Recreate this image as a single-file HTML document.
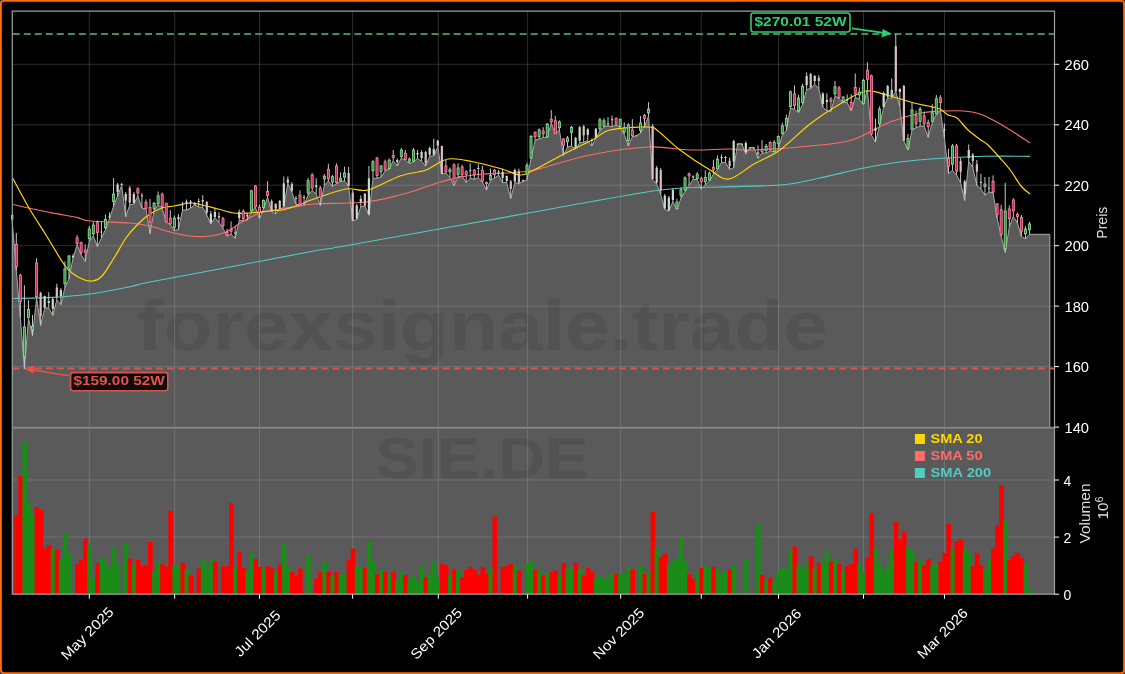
<!DOCTYPE html>
<html><head><meta charset="utf-8"><style>html,body{margin:0;padding:0;background:#000;width:1125px;height:674px;overflow:hidden}svg{display:block;will-change:transform}</style></head>
<body><svg width="1125" height="674" viewBox="0 0 1125 674">
<rect x="0" y="0" width="1125" height="674" fill="#333"/>
<rect x="0.9" y="0.9" width="1123.2" height="672.2" rx="3" ry="3" fill="#000" stroke="#ff6a13" stroke-width="1.9"/>
<rect x="12.3" y="427.8" width="1042.2" height="166.40000000000003" fill="#5a5a5a"/>
<path d="M12.2,427.8 L12.2,221.0 L16.3,270.5 L20.3,317.4 L24.4,368.9 L28.5,318.5 L32.5,335.6 L36.6,298.0 L40.6,325.4 L44.7,308.3 L48.7,307.8 L52.8,315.3 L56.8,299.8 L60.9,304.6 L64.9,287.6 L69.0,279.0 L73.0,258.0 L77.1,244.8 L81.1,254.4 L85.2,261.4 L89.2,241.6 L93.3,235.8 L97.4,246.5 L101.4,238.0 L105.5,229.4 L109.5,218.7 L113.6,206.0 L117.6,196.0 L121.7,185.5 L125.7,216.6 L129.8,204.8 L133.8,204.0 L137.9,196.0 L141.9,208.0 L146.0,209.1 L150.0,233.7 L154.1,210.0 L158.1,204.8 L162.2,208.0 L166.3,222.0 L170.3,224.6 L174.4,230.5 L178.4,229.4 L182.5,210.0 L186.5,210.0 L190.6,208.0 L194.6,205.0 L198.7,207.0 L202.7,207.4 L206.8,214.9 L210.8,224.0 L214.9,217.5 L218.9,222.4 L223.0,228.2 L227.0,236.2 L231.1,234.0 L235.2,238.4 L239.2,220.2 L243.3,220.7 L247.3,220.2 L251.4,211.7 L255.4,207.4 L259.5,218.6 L263.5,209.0 L267.6,197.2 L271.6,211.5 L275.7,213.8 L279.7,209.5 L283.8,206.9 L287.8,183.4 L291.9,192.0 L295.9,204.2 L300.0,205.3 L304.1,205.0 L308.1,195.1 L312.2,190.6 L316.2,193.8 L320.3,205.6 L324.3,185.3 L328.4,181.0 L332.4,186.3 L336.5,183.7 L340.5,181.5 L344.6,181.0 L348.6,186.3 L352.7,221.0 L356.7,219.4 L360.8,206.6 L364.9,206.0 L368.9,215.2 L373.0,178.3 L377.0,178.3 L381.1,177.2 L385.1,170.8 L389.2,169.2 L393.2,160.7 L397.3,166.0 L401.3,158.0 L405.4,160.1 L409.4,163.4 L413.5,161.8 L417.5,158.5 L421.6,161.1 L425.6,166.0 L429.7,156.3 L433.8,155.8 L437.8,146.7 L441.9,174.0 L445.9,172.9 L450.0,177.7 L454.0,185.7 L458.1,177.1 L462.1,176.0 L466.2,182.5 L470.2,178.2 L474.3,179.3 L478.3,177.7 L482.4,182.0 L486.4,190.0 L490.5,180.4 L494.5,178.2 L498.6,175.0 L502.7,182.5 L506.7,182.5 L510.8,198.5 L514.8,182.5 L518.9,183.6 L522.9,181.5 L527.0,179.8 L531.0,159.0 L535.1,140.3 L539.1,139.0 L543.2,137.4 L547.2,137.4 L551.3,123.0 L555.3,134.0 L559.4,130.0 L563.4,155.6 L567.5,147.0 L571.6,146.0 L575.6,149.1 L579.7,142.7 L583.7,142.2 L587.8,140.6 L591.8,146.0 L595.9,138.0 L599.9,131.0 L604.0,126.7 L608.0,126.0 L612.1,126.7 L616.1,125.1 L620.2,127.2 L624.2,134.2 L628.3,146.0 L632.3,136.9 L636.4,135.8 L640.5,133.1 L644.5,126.2 L648.6,116.0 L652.6,180.0 L656.7,183.8 L660.7,194.5 L664.8,209.4 L668.8,211.0 L672.9,201.4 L676.9,209.4 L681.0,198.2 L685.0,191.3 L689.1,184.9 L693.1,179.5 L697.2,179.5 L701.2,189.1 L705.3,184.9 L709.4,181.1 L713.4,174.2 L717.5,169.4 L721.5,162.4 L725.6,162.4 L729.6,169.4 L733.7,167.8 L737.7,143.7 L741.8,143.7 L745.8,154.1 L749.9,147.5 L753.9,147.5 L758.0,158.3 L762.0,153.0 L766.1,153.0 L770.2,150.9 L774.2,152.0 L778.3,148.8 L782.3,134.9 L786.4,130.6 L790.4,108.2 L794.5,109.3 L798.5,112.5 L802.6,104.5 L806.6,89.5 L810.7,88.5 L814.7,84.2 L818.8,88.5 L822.8,107.1 L826.9,110.9 L830.9,111.4 L835.0,95.9 L839.1,98.6 L843.1,102.4 L847.2,102.6 L851.2,110.9 L855.3,97.5 L859.3,99.1 L863.4,104.5 L867.4,89.5 L871.5,135.2 L875.5,142.0 L879.6,125.6 L883.6,107.4 L887.7,97.8 L891.7,98.3 L895.8,91.4 L899.8,106.3 L903.9,141.0 L908.0,150.0 L912.0,129.8 L916.1,127.7 L920.1,126.1 L924.2,126.1 L928.2,137.3 L932.3,122.4 L936.3,114.3 L940.4,110.6 L944.4,138.0 L948.5,173.3 L952.5,170.6 L956.6,174.9 L960.6,182.4 L964.7,200.5 L968.7,161.5 L972.8,167.4 L976.9,185.6 L980.9,188.8 L985.0,195.2 L989.0,192.0 L993.1,193.0 L997.1,218.0 L1001.2,236.0 L1005.2,252.5 L1009.3,227.0 L1013.3,216.5 L1017.4,222.7 L1021.4,236.5 L1025.5,238.7 L1029.5,234.3 L1049.8,234.3 L1049.8,427.8 Z" fill="#5a5a5a" stroke="none"/>
<text x="137" y="350" font-family="Liberation Sans" font-weight="bold" font-size="71" fill="#525252" textLength="691" lengthAdjust="spacingAndGlyphs">forexsignale.trade</text>
<text x="482" y="478" text-anchor="middle" font-family="Liberation Sans" font-weight="bold" font-size="58" fill="#525252" textLength="213" lengthAdjust="spacingAndGlyphs">SIE.DE</text>
<line x1="89.3" y1="11.2" x2="89.3" y2="594.2" stroke="#bbb" stroke-opacity="0.3" stroke-width="0.8"/>
<line x1="174.7" y1="11.2" x2="174.7" y2="594.2" stroke="#bbb" stroke-opacity="0.3" stroke-width="0.8"/>
<line x1="259.5" y1="11.2" x2="259.5" y2="594.2" stroke="#bbb" stroke-opacity="0.3" stroke-width="0.8"/>
<line x1="352.6" y1="11.2" x2="352.6" y2="594.2" stroke="#bbb" stroke-opacity="0.3" stroke-width="0.8"/>
<line x1="438.3" y1="11.2" x2="438.3" y2="594.2" stroke="#bbb" stroke-opacity="0.3" stroke-width="0.8"/>
<line x1="527.6" y1="11.2" x2="527.6" y2="594.2" stroke="#bbb" stroke-opacity="0.3" stroke-width="0.8"/>
<line x1="620.7" y1="11.2" x2="620.7" y2="594.2" stroke="#bbb" stroke-opacity="0.3" stroke-width="0.8"/>
<line x1="701.3" y1="11.2" x2="701.3" y2="594.2" stroke="#bbb" stroke-opacity="0.3" stroke-width="0.8"/>
<line x1="778.5" y1="11.2" x2="778.5" y2="594.2" stroke="#bbb" stroke-opacity="0.3" stroke-width="0.8"/>
<line x1="863.5" y1="11.2" x2="863.5" y2="594.2" stroke="#bbb" stroke-opacity="0.3" stroke-width="0.8"/>
<line x1="944.5" y1="11.2" x2="944.5" y2="594.2" stroke="#bbb" stroke-opacity="0.3" stroke-width="0.8"/>
<line x1="12.3" y1="64.3" x2="1054.5" y2="64.3" stroke="#bbb" stroke-opacity="0.3" stroke-width="0.8"/>
<line x1="12.3" y1="124.8" x2="1054.5" y2="124.8" stroke="#bbb" stroke-opacity="0.3" stroke-width="0.8"/>
<line x1="12.3" y1="185.2" x2="1054.5" y2="185.2" stroke="#bbb" stroke-opacity="0.3" stroke-width="0.8"/>
<line x1="12.3" y1="245.7" x2="1054.5" y2="245.7" stroke="#bbb" stroke-opacity="0.3" stroke-width="0.8"/>
<line x1="12.3" y1="306.1" x2="1054.5" y2="306.1" stroke="#bbb" stroke-opacity="0.3" stroke-width="0.8"/>
<line x1="12.3" y1="366.6" x2="1054.5" y2="366.6" stroke="#bbb" stroke-opacity="0.3" stroke-width="0.8"/>
<line x1="12.3" y1="537.1" x2="1054.5" y2="537.1" stroke="#bbb" stroke-opacity="0.3" stroke-width="0.8"/>
<line x1="12.3" y1="480.0" x2="1054.5" y2="480.0" stroke="#bbb" stroke-opacity="0.3" stroke-width="0.8"/>
<rect x="14.27" y="515.0" width="4.65" height="79.2" fill="#ff0000"/>
<rect x="18.32" y="476.0" width="4.65" height="118.2" fill="#ff0000"/>
<rect x="22.37" y="442.4" width="4.65" height="151.8" fill="#1a8c1a"/>
<rect x="26.43" y="503.7" width="4.65" height="90.5" fill="#1a8c1a"/>
<rect x="30.48" y="513.0" width="4.65" height="81.2" fill="#1a8c1a"/>
<rect x="34.53" y="507.0" width="4.65" height="87.2" fill="#ff0000"/>
<rect x="38.58" y="510.0" width="4.65" height="84.2" fill="#ff0000"/>
<rect x="42.64" y="548.6" width="4.65" height="45.6" fill="#ff0000"/>
<rect x="46.69" y="545.0" width="4.65" height="49.2" fill="#ff0000"/>
<rect x="50.74" y="550.0" width="4.65" height="44.2" fill="#1a8c1a"/>
<rect x="54.80" y="550.0" width="4.65" height="44.2" fill="#ff0000"/>
<rect x="58.85" y="559.0" width="4.65" height="35.2" fill="#1a8c1a"/>
<rect x="62.90" y="534.0" width="4.65" height="60.2" fill="#1a8c1a"/>
<rect x="66.96" y="554.0" width="4.65" height="40.2" fill="#1a8c1a"/>
<rect x="75.06" y="564.0" width="4.65" height="30.2" fill="#ff0000"/>
<rect x="79.11" y="560.0" width="4.65" height="34.2" fill="#ff0000"/>
<rect x="83.17" y="538.6" width="4.65" height="55.6" fill="#ff0000"/>
<rect x="87.22" y="545.0" width="4.65" height="49.2" fill="#1a8c1a"/>
<rect x="91.27" y="577.0" width="4.65" height="17.2" fill="#1a8c1a"/>
<rect x="95.33" y="563.0" width="4.65" height="31.2" fill="#ff0000"/>
<rect x="99.38" y="557.0" width="4.65" height="37.2" fill="#1a8c1a"/>
<rect x="103.43" y="561.0" width="4.65" height="33.2" fill="#1a8c1a"/>
<rect x="107.49" y="567.0" width="4.65" height="27.2" fill="#1a8c1a"/>
<rect x="111.54" y="547.0" width="4.65" height="47.2" fill="#1a8c1a"/>
<rect x="115.59" y="564.0" width="4.65" height="30.2" fill="#1a8c1a"/>
<rect x="123.70" y="543.6" width="4.65" height="50.6" fill="#1a8c1a"/>
<rect x="127.75" y="558.5" width="4.65" height="35.7" fill="#ff0000"/>
<rect x="131.80" y="565.0" width="4.65" height="29.2" fill="#1a8c1a"/>
<rect x="135.86" y="560.0" width="4.65" height="34.2" fill="#ff0000"/>
<rect x="139.91" y="565.7" width="4.65" height="28.5" fill="#ff0000"/>
<rect x="143.96" y="565.0" width="4.65" height="29.2" fill="#ff0000"/>
<rect x="148.02" y="542.0" width="4.65" height="52.2" fill="#ff0000"/>
<rect x="152.07" y="571.0" width="4.65" height="23.2" fill="#1a8c1a"/>
<rect x="156.12" y="562.0" width="4.65" height="32.2" fill="#1a8c1a"/>
<rect x="160.17" y="564.0" width="4.65" height="30.2" fill="#ff0000"/>
<rect x="164.23" y="567.0" width="4.65" height="27.2" fill="#ff0000"/>
<rect x="168.28" y="510.8" width="4.65" height="83.4" fill="#ff0000"/>
<rect x="172.33" y="566.0" width="4.65" height="28.2" fill="#1a8c1a"/>
<rect x="176.39" y="566.0" width="4.65" height="28.2" fill="#1a8c1a"/>
<rect x="180.44" y="562.8" width="4.65" height="31.4" fill="#ff0000"/>
<rect x="184.49" y="570.6" width="4.65" height="23.6" fill="#1a8c1a"/>
<rect x="188.55" y="575.6" width="4.65" height="18.6" fill="#ff0000"/>
<rect x="196.65" y="568.5" width="4.65" height="25.7" fill="#ff0000"/>
<rect x="200.70" y="559.0" width="4.65" height="35.2" fill="#1a8c1a"/>
<rect x="204.76" y="567.0" width="4.65" height="27.2" fill="#1a8c1a"/>
<rect x="208.81" y="559.0" width="4.65" height="35.2" fill="#1a8c1a"/>
<rect x="212.86" y="562.0" width="4.65" height="32.2" fill="#ff0000"/>
<rect x="220.97" y="566.0" width="4.65" height="28.2" fill="#ff0000"/>
<rect x="225.02" y="566.0" width="4.65" height="28.2" fill="#ff0000"/>
<rect x="229.08" y="503.0" width="4.65" height="91.2" fill="#ff0000"/>
<rect x="233.13" y="567.8" width="4.65" height="26.4" fill="#1a8c1a"/>
<rect x="237.18" y="552.0" width="4.65" height="42.2" fill="#ff0000"/>
<rect x="241.23" y="567.8" width="4.65" height="26.4" fill="#ff0000"/>
<rect x="245.29" y="571.4" width="4.65" height="22.8" fill="#1a8c1a"/>
<rect x="249.34" y="552.8" width="4.65" height="41.4" fill="#1a8c1a"/>
<rect x="253.39" y="559.0" width="4.65" height="35.2" fill="#ff0000"/>
<rect x="257.45" y="567.0" width="4.65" height="27.2" fill="#ff0000"/>
<rect x="261.50" y="568.5" width="4.65" height="25.7" fill="#1a8c1a"/>
<rect x="265.55" y="566.0" width="4.65" height="28.2" fill="#ff0000"/>
<rect x="269.61" y="568.5" width="4.65" height="25.7" fill="#ff0000"/>
<rect x="273.66" y="572.0" width="4.65" height="22.2" fill="#1a8c1a"/>
<rect x="277.71" y="564.7" width="4.65" height="29.5" fill="#ff0000"/>
<rect x="281.76" y="544.3" width="4.65" height="49.9" fill="#1a8c1a"/>
<rect x="285.82" y="567.8" width="4.65" height="26.4" fill="#1a8c1a"/>
<rect x="289.87" y="572.0" width="4.65" height="22.2" fill="#ff0000"/>
<rect x="293.92" y="575.6" width="4.65" height="18.6" fill="#ff0000"/>
<rect x="297.98" y="568.5" width="4.65" height="25.7" fill="#ff0000"/>
<rect x="306.08" y="555.0" width="4.65" height="39.2" fill="#1a8c1a"/>
<rect x="314.19" y="578.5" width="4.65" height="15.7" fill="#ff0000"/>
<rect x="318.24" y="572.0" width="4.65" height="22.2" fill="#ff0000"/>
<rect x="322.29" y="562.0" width="4.65" height="32.2" fill="#1a8c1a"/>
<rect x="326.35" y="571.4" width="4.65" height="22.8" fill="#ff0000"/>
<rect x="330.40" y="575.6" width="4.65" height="18.6" fill="#1a8c1a"/>
<rect x="334.45" y="572.0" width="4.65" height="22.2" fill="#ff0000"/>
<rect x="338.51" y="573.5" width="4.65" height="20.7" fill="#1a8c1a"/>
<rect x="342.56" y="573.5" width="4.65" height="20.7" fill="#1a8c1a"/>
<rect x="346.61" y="560.0" width="4.65" height="34.2" fill="#ff0000"/>
<rect x="350.67" y="548.6" width="4.65" height="45.6" fill="#ff0000"/>
<rect x="354.72" y="566.0" width="4.65" height="28.2" fill="#1a8c1a"/>
<rect x="358.77" y="567.8" width="4.65" height="26.4" fill="#1a8c1a"/>
<rect x="362.82" y="567.8" width="4.65" height="26.4" fill="#ff0000"/>
<rect x="366.88" y="542.0" width="4.65" height="52.2" fill="#1a8c1a"/>
<rect x="370.93" y="562.0" width="4.65" height="32.2" fill="#1a8c1a"/>
<rect x="374.98" y="574.0" width="4.65" height="20.2" fill="#ff0000"/>
<rect x="379.04" y="570.0" width="4.65" height="24.2" fill="#1a8c1a"/>
<rect x="383.09" y="572.0" width="4.65" height="22.2" fill="#ff0000"/>
<rect x="387.14" y="575.0" width="4.65" height="19.2" fill="#1a8c1a"/>
<rect x="391.20" y="571.4" width="4.65" height="22.8" fill="#ff0000"/>
<rect x="395.25" y="579.0" width="4.65" height="15.2" fill="#1a8c1a"/>
<rect x="399.30" y="571.4" width="4.65" height="22.8" fill="#1a8c1a"/>
<rect x="403.35" y="575.0" width="4.65" height="19.2" fill="#ff0000"/>
<rect x="407.41" y="579.0" width="4.65" height="15.2" fill="#1a8c1a"/>
<rect x="411.46" y="575.0" width="4.65" height="19.2" fill="#1a8c1a"/>
<rect x="415.51" y="581.0" width="4.65" height="13.2" fill="#1a8c1a"/>
<rect x="419.57" y="566.0" width="4.65" height="28.2" fill="#1a8c1a"/>
<rect x="423.62" y="577.0" width="4.65" height="17.2" fill="#ff0000"/>
<rect x="427.67" y="574.0" width="4.65" height="20.2" fill="#1a8c1a"/>
<rect x="431.73" y="562.0" width="4.65" height="32.2" fill="#1a8c1a"/>
<rect x="435.78" y="577.8" width="4.65" height="16.4" fill="#1a8c1a"/>
<rect x="439.83" y="564.0" width="4.65" height="30.2" fill="#ff0000"/>
<rect x="443.88" y="565.0" width="4.65" height="29.2" fill="#ff0000"/>
<rect x="447.94" y="575.6" width="4.65" height="18.6" fill="#1a8c1a"/>
<rect x="451.99" y="570.0" width="4.65" height="24.2" fill="#ff0000"/>
<rect x="456.04" y="570.6" width="4.65" height="23.6" fill="#1a8c1a"/>
<rect x="460.10" y="577.0" width="4.65" height="17.2" fill="#ff0000"/>
<rect x="464.15" y="570.0" width="4.65" height="24.2" fill="#ff0000"/>
<rect x="468.20" y="567.0" width="4.65" height="27.2" fill="#ff0000"/>
<rect x="472.26" y="570.0" width="4.65" height="24.2" fill="#ff0000"/>
<rect x="476.31" y="575.0" width="4.65" height="19.2" fill="#ff0000"/>
<rect x="480.36" y="567.0" width="4.65" height="27.2" fill="#ff0000"/>
<rect x="484.41" y="573.5" width="4.65" height="20.7" fill="#ff0000"/>
<rect x="488.47" y="567.8" width="4.65" height="26.4" fill="#1a8c1a"/>
<rect x="492.52" y="516.5" width="4.65" height="77.7" fill="#ff0000"/>
<rect x="500.63" y="567.0" width="4.65" height="27.2" fill="#ff0000"/>
<rect x="504.68" y="565.7" width="4.65" height="28.5" fill="#ff0000"/>
<rect x="508.73" y="564.0" width="4.65" height="30.2" fill="#ff0000"/>
<rect x="512.79" y="566.0" width="4.65" height="28.2" fill="#1a8c1a"/>
<rect x="516.84" y="570.6" width="4.65" height="23.6" fill="#ff0000"/>
<rect x="524.94" y="563.5" width="4.65" height="30.7" fill="#1a8c1a"/>
<rect x="529.00" y="560.7" width="4.65" height="33.5" fill="#1a8c1a"/>
<rect x="533.05" y="570.0" width="4.65" height="24.2" fill="#ff0000"/>
<rect x="537.10" y="570.0" width="4.65" height="24.2" fill="#1a8c1a"/>
<rect x="541.16" y="575.6" width="4.65" height="18.6" fill="#ff0000"/>
<rect x="545.21" y="572.8" width="4.65" height="21.4" fill="#1a8c1a"/>
<rect x="549.26" y="572.0" width="4.65" height="22.2" fill="#ff0000"/>
<rect x="553.32" y="570.6" width="4.65" height="23.6" fill="#ff0000"/>
<rect x="557.37" y="575.6" width="4.65" height="18.6" fill="#1a8c1a"/>
<rect x="561.42" y="562.8" width="4.65" height="31.4" fill="#ff0000"/>
<rect x="565.47" y="568.5" width="4.65" height="25.7" fill="#1a8c1a"/>
<rect x="569.53" y="567.8" width="4.65" height="26.4" fill="#1a8c1a"/>
<rect x="573.58" y="562.8" width="4.65" height="31.4" fill="#ff0000"/>
<rect x="577.63" y="570.0" width="4.65" height="24.2" fill="#1a8c1a"/>
<rect x="581.69" y="575.6" width="4.65" height="18.6" fill="#ff0000"/>
<rect x="585.74" y="567.8" width="4.65" height="26.4" fill="#ff0000"/>
<rect x="589.79" y="572.0" width="4.65" height="22.2" fill="#ff0000"/>
<rect x="593.85" y="579.0" width="4.65" height="15.2" fill="#1a8c1a"/>
<rect x="597.90" y="575.6" width="4.65" height="18.6" fill="#1a8c1a"/>
<rect x="601.95" y="579.0" width="4.65" height="15.2" fill="#1a8c1a"/>
<rect x="606.00" y="577.0" width="4.65" height="17.2" fill="#1a8c1a"/>
<rect x="610.06" y="572.8" width="4.65" height="21.4" fill="#1a8c1a"/>
<rect x="614.11" y="573.5" width="4.65" height="20.7" fill="#ff0000"/>
<rect x="618.16" y="574.0" width="4.65" height="20.2" fill="#1a8c1a"/>
<rect x="622.22" y="573.5" width="4.65" height="20.7" fill="#1a8c1a"/>
<rect x="626.27" y="567.8" width="4.65" height="26.4" fill="#1a8c1a"/>
<rect x="630.32" y="570.0" width="4.65" height="24.2" fill="#ff0000"/>
<rect x="638.43" y="565.0" width="4.65" height="29.2" fill="#1a8c1a"/>
<rect x="642.48" y="574.0" width="4.65" height="20.2" fill="#ff0000"/>
<rect x="646.53" y="572.0" width="4.65" height="22.2" fill="#1a8c1a"/>
<rect x="650.59" y="512.0" width="4.65" height="82.2" fill="#ff0000"/>
<rect x="654.64" y="548.6" width="4.65" height="45.6" fill="#1a8c1a"/>
<rect x="658.69" y="557.0" width="4.65" height="37.2" fill="#ff0000"/>
<rect x="662.75" y="554.0" width="4.65" height="40.2" fill="#ff0000"/>
<rect x="666.80" y="565.0" width="4.65" height="29.2" fill="#1a8c1a"/>
<rect x="670.85" y="560.7" width="4.65" height="33.5" fill="#1a8c1a"/>
<rect x="674.91" y="557.8" width="4.65" height="36.4" fill="#1a8c1a"/>
<rect x="678.96" y="538.0" width="4.65" height="56.2" fill="#1a8c1a"/>
<rect x="683.01" y="562.0" width="4.65" height="32.2" fill="#1a8c1a"/>
<rect x="687.06" y="574.0" width="4.65" height="20.2" fill="#ff0000"/>
<rect x="691.12" y="579.0" width="4.65" height="15.2" fill="#ff0000"/>
<rect x="695.17" y="572.0" width="4.65" height="22.2" fill="#1a8c1a"/>
<rect x="699.22" y="567.8" width="4.65" height="26.4" fill="#ff0000"/>
<rect x="703.28" y="565.0" width="4.65" height="29.2" fill="#1a8c1a"/>
<rect x="707.33" y="567.8" width="4.65" height="26.4" fill="#1a8c1a"/>
<rect x="711.38" y="567.0" width="4.65" height="27.2" fill="#ff0000"/>
<rect x="715.44" y="570.0" width="4.65" height="24.2" fill="#1a8c1a"/>
<rect x="719.49" y="573.5" width="4.65" height="20.7" fill="#1a8c1a"/>
<rect x="723.54" y="572.0" width="4.65" height="22.2" fill="#1a8c1a"/>
<rect x="727.59" y="570.0" width="4.65" height="24.2" fill="#ff0000"/>
<rect x="731.65" y="566.0" width="4.65" height="28.2" fill="#1a8c1a"/>
<rect x="743.81" y="560.0" width="4.65" height="34.2" fill="#1a8c1a"/>
<rect x="755.97" y="523.0" width="4.65" height="71.2" fill="#1a8c1a"/>
<rect x="760.02" y="575.0" width="4.65" height="19.2" fill="#ff0000"/>
<rect x="764.07" y="580.0" width="4.65" height="14.2" fill="#1a8c1a"/>
<rect x="768.12" y="578.5" width="4.65" height="15.7" fill="#ff0000"/>
<rect x="772.18" y="582.0" width="4.65" height="12.2" fill="#1a8c1a"/>
<rect x="776.23" y="572.0" width="4.65" height="22.2" fill="#1a8c1a"/>
<rect x="780.28" y="567.8" width="4.65" height="26.4" fill="#1a8c1a"/>
<rect x="784.34" y="570.0" width="4.65" height="24.2" fill="#1a8c1a"/>
<rect x="788.39" y="550.0" width="4.65" height="44.2" fill="#1a8c1a"/>
<rect x="792.44" y="546.4" width="4.65" height="47.8" fill="#ff0000"/>
<rect x="796.50" y="565.0" width="4.65" height="29.2" fill="#1a8c1a"/>
<rect x="800.55" y="570.0" width="4.65" height="24.2" fill="#1a8c1a"/>
<rect x="804.60" y="562.8" width="4.65" height="31.4" fill="#1a8c1a"/>
<rect x="808.65" y="556.4" width="4.65" height="37.8" fill="#ff0000"/>
<rect x="812.71" y="568.5" width="4.65" height="25.7" fill="#1a8c1a"/>
<rect x="816.76" y="562.8" width="4.65" height="31.4" fill="#ff0000"/>
<rect x="820.81" y="560.7" width="4.65" height="33.5" fill="#1a8c1a"/>
<rect x="824.87" y="550.7" width="4.65" height="43.5" fill="#1a8c1a"/>
<rect x="828.92" y="562.0" width="4.65" height="32.2" fill="#ff0000"/>
<rect x="832.97" y="560.0" width="4.65" height="34.2" fill="#1a8c1a"/>
<rect x="837.03" y="564.0" width="4.65" height="30.2" fill="#ff0000"/>
<rect x="841.08" y="570.6" width="4.65" height="23.6" fill="#1a8c1a"/>
<rect x="845.13" y="566.0" width="4.65" height="28.2" fill="#ff0000"/>
<rect x="849.18" y="564.0" width="4.65" height="30.2" fill="#ff0000"/>
<rect x="853.24" y="548.6" width="4.65" height="45.6" fill="#ff0000"/>
<rect x="857.29" y="564.0" width="4.65" height="30.2" fill="#1a8c1a"/>
<rect x="861.34" y="572.8" width="4.65" height="21.4" fill="#1a8c1a"/>
<rect x="865.40" y="557.0" width="4.65" height="37.2" fill="#ff0000"/>
<rect x="869.45" y="513.0" width="4.65" height="81.2" fill="#ff0000"/>
<rect x="873.50" y="547.9" width="4.65" height="46.3" fill="#1a8c1a"/>
<rect x="877.56" y="564.0" width="4.65" height="30.2" fill="#1a8c1a"/>
<rect x="881.61" y="571.4" width="4.65" height="22.8" fill="#1a8c1a"/>
<rect x="885.66" y="565.0" width="4.65" height="29.2" fill="#1a8c1a"/>
<rect x="889.71" y="550.0" width="4.65" height="44.2" fill="#1a8c1a"/>
<rect x="893.77" y="522.0" width="4.65" height="72.2" fill="#ff0000"/>
<rect x="897.82" y="540.0" width="4.65" height="54.2" fill="#ff0000"/>
<rect x="901.87" y="532.0" width="4.65" height="62.2" fill="#ff0000"/>
<rect x="905.93" y="547.0" width="4.65" height="47.2" fill="#1a8c1a"/>
<rect x="909.98" y="552.0" width="4.65" height="42.2" fill="#1a8c1a"/>
<rect x="914.03" y="562.0" width="4.65" height="32.2" fill="#ff0000"/>
<rect x="918.09" y="560.7" width="4.65" height="33.5" fill="#1a8c1a"/>
<rect x="922.14" y="565.7" width="4.65" height="28.5" fill="#ff0000"/>
<rect x="926.19" y="559.0" width="4.65" height="35.2" fill="#ff0000"/>
<rect x="930.24" y="565.7" width="4.65" height="28.5" fill="#1a8c1a"/>
<rect x="934.30" y="562.8" width="4.65" height="31.4" fill="#1a8c1a"/>
<rect x="938.35" y="562.0" width="4.65" height="32.2" fill="#ff0000"/>
<rect x="942.40" y="552.8" width="4.65" height="41.4" fill="#ff0000"/>
<rect x="946.46" y="523.6" width="4.65" height="70.6" fill="#ff0000"/>
<rect x="950.51" y="550.0" width="4.65" height="44.2" fill="#1a8c1a"/>
<rect x="954.56" y="541.4" width="4.65" height="52.8" fill="#ff0000"/>
<rect x="958.62" y="539.3" width="4.65" height="54.9" fill="#ff0000"/>
<rect x="962.67" y="550.0" width="4.65" height="44.2" fill="#1a8c1a"/>
<rect x="966.72" y="552.8" width="4.65" height="41.4" fill="#1a8c1a"/>
<rect x="970.77" y="566.0" width="4.65" height="28.2" fill="#ff0000"/>
<rect x="974.83" y="552.8" width="4.65" height="41.4" fill="#ff0000"/>
<rect x="978.88" y="565.7" width="4.65" height="28.5" fill="#ff0000"/>
<rect x="982.93" y="568.5" width="4.65" height="25.7" fill="#1a8c1a"/>
<rect x="986.99" y="559.0" width="4.65" height="35.2" fill="#1a8c1a"/>
<rect x="991.04" y="548.6" width="4.65" height="45.6" fill="#ff0000"/>
<rect x="995.09" y="525.0" width="4.65" height="69.2" fill="#ff0000"/>
<rect x="999.15" y="485.0" width="4.65" height="109.2" fill="#ff0000"/>
<rect x="1003.20" y="520.8" width="4.65" height="73.4" fill="#1a8c1a"/>
<rect x="1007.25" y="560.0" width="4.65" height="34.2" fill="#ff0000"/>
<rect x="1011.30" y="555.7" width="4.65" height="38.5" fill="#ff0000"/>
<rect x="1015.36" y="552.8" width="4.65" height="41.4" fill="#ff0000"/>
<rect x="1019.41" y="557.8" width="4.65" height="36.4" fill="#ff0000"/>
<rect x="1023.46" y="564.0" width="4.65" height="30.2" fill="#1a8c1a"/>
<rect x="1027.52" y="589.0" width="4.65" height="5.2" fill="#1a8c1a"/>
<path d="M12.2,221.0 L16.3,270.5 L20.3,317.4 L24.4,368.9 L28.5,318.5 L32.5,335.6 L36.6,298.0 L40.6,325.4 L44.7,308.3 L48.7,307.8 L52.8,315.3 L56.8,299.8 L60.9,304.6 L64.9,287.6 L69.0,279.0 L73.0,258.0 L77.1,244.8 L81.1,254.4 L85.2,261.4 L89.2,241.6 L93.3,235.8 L97.4,246.5 L101.4,238.0 L105.5,229.4 L109.5,218.7 L113.6,206.0 L117.6,196.0 L121.7,185.5 L125.7,216.6 L129.8,204.8 L133.8,204.0 L137.9,196.0 L141.9,208.0 L146.0,209.1 L150.0,233.7 L154.1,210.0 L158.1,204.8 L162.2,208.0 L166.3,222.0 L170.3,224.6 L174.4,230.5 L178.4,229.4 L182.5,210.0 L186.5,210.0 L190.6,208.0 L194.6,205.0 L198.7,207.0 L202.7,207.4 L206.8,214.9 L210.8,224.0 L214.9,217.5 L218.9,222.4 L223.0,228.2 L227.0,236.2 L231.1,234.0 L235.2,238.4 L239.2,220.2 L243.3,220.7 L247.3,220.2 L251.4,211.7 L255.4,207.4 L259.5,218.6 L263.5,209.0 L267.6,197.2 L271.6,211.5 L275.7,213.8 L279.7,209.5 L283.8,206.9 L287.8,183.4 L291.9,192.0 L295.9,204.2 L300.0,205.3 L304.1,205.0 L308.1,195.1 L312.2,190.6 L316.2,193.8 L320.3,205.6 L324.3,185.3 L328.4,181.0 L332.4,186.3 L336.5,183.7 L340.5,181.5 L344.6,181.0 L348.6,186.3 L352.7,221.0 L356.7,219.4 L360.8,206.6 L364.9,206.0 L368.9,215.2 L373.0,178.3 L377.0,178.3 L381.1,177.2 L385.1,170.8 L389.2,169.2 L393.2,160.7 L397.3,166.0 L401.3,158.0 L405.4,160.1 L409.4,163.4 L413.5,161.8 L417.5,158.5 L421.6,161.1 L425.6,166.0 L429.7,156.3 L433.8,155.8 L437.8,146.7 L441.9,174.0 L445.9,172.9 L450.0,177.7 L454.0,185.7 L458.1,177.1 L462.1,176.0 L466.2,182.5 L470.2,178.2 L474.3,179.3 L478.3,177.7 L482.4,182.0 L486.4,190.0 L490.5,180.4 L494.5,178.2 L498.6,175.0 L502.7,182.5 L506.7,182.5 L510.8,198.5 L514.8,182.5 L518.9,183.6 L522.9,181.5 L527.0,179.8 L531.0,159.0 L535.1,140.3 L539.1,139.0 L543.2,137.4 L547.2,137.4 L551.3,123.0 L555.3,134.0 L559.4,130.0 L563.4,155.6 L567.5,147.0 L571.6,146.0 L575.6,149.1 L579.7,142.7 L583.7,142.2 L587.8,140.6 L591.8,146.0 L595.9,138.0 L599.9,131.0 L604.0,126.7 L608.0,126.0 L612.1,126.7 L616.1,125.1 L620.2,127.2 L624.2,134.2 L628.3,146.0 L632.3,136.9 L636.4,135.8 L640.5,133.1 L644.5,126.2 L648.6,116.0 L652.6,180.0 L656.7,183.8 L660.7,194.5 L664.8,209.4 L668.8,211.0 L672.9,201.4 L676.9,209.4 L681.0,198.2 L685.0,191.3 L689.1,184.9 L693.1,179.5 L697.2,179.5 L701.2,189.1 L705.3,184.9 L709.4,181.1 L713.4,174.2 L717.5,169.4 L721.5,162.4 L725.6,162.4 L729.6,169.4 L733.7,167.8 L737.7,143.7 L741.8,143.7 L745.8,154.1 L749.9,147.5 L753.9,147.5 L758.0,158.3 L762.0,153.0 L766.1,153.0 L770.2,150.9 L774.2,152.0 L778.3,148.8 L782.3,134.9 L786.4,130.6 L790.4,108.2 L794.5,109.3 L798.5,112.5 L802.6,104.5 L806.6,89.5 L810.7,88.5 L814.7,84.2 L818.8,88.5 L822.8,107.1 L826.9,110.9 L830.9,111.4 L835.0,95.9 L839.1,98.6 L843.1,102.4 L847.2,102.6 L851.2,110.9 L855.3,97.5 L859.3,99.1 L863.4,104.5 L867.4,89.5 L871.5,135.2 L875.5,142.0 L879.6,125.6 L883.6,107.4 L887.7,97.8 L891.7,98.3 L895.8,91.4 L899.8,106.3 L903.9,141.0 L908.0,150.0 L912.0,129.8 L916.1,127.7 L920.1,126.1 L924.2,126.1 L928.2,137.3 L932.3,122.4 L936.3,114.3 L940.4,110.6 L944.4,138.0 L948.5,173.3 L952.5,170.6 L956.6,174.9 L960.6,182.4 L964.7,200.5 L968.7,161.5 L972.8,167.4 L976.9,185.6 L980.9,188.8 L985.0,195.2 L989.0,192.0 L993.1,193.0 L997.1,218.0 L1001.2,236.0 L1005.2,252.5 L1009.3,227.0 L1013.3,216.5 L1017.4,222.7 L1021.4,236.5 L1025.5,238.7 L1029.5,234.3 L1049.8,234.3 L1049.8,427.8" fill="none" stroke="#a8a8a8" stroke-width="1"/>
<line x1="12.76" y1="34" x2="1054.5" y2="34" stroke="#3e8f5c" stroke-width="2" stroke-dasharray="7,4.02"/>
<line x1="12.76" y1="368.6" x2="1054.5" y2="368.6" stroke="#d9534f" stroke-width="2" stroke-dasharray="7,4.02"/>
<path d="M12.8,298.5 C19.5,298.3 39.9,298.1 52.8,297.4 C65.7,296.6 77.1,295.8 90.0,294.0 C102.9,292.2 120.0,288.7 130.0,286.7 C140.0,284.7 132.5,285.4 150.0,282.0 C167.5,278.6 207.7,271.2 235.0,266.0 C262.3,260.8 294.8,254.5 314.0,251.0 C333.2,247.5 313.3,251.5 350.0,245.0 C386.7,238.5 482.2,221.2 534.0,212.0 C585.8,202.8 629.5,194.2 660.5,190.0 C691.5,185.8 699.9,187.8 720.0,187.0 C740.1,186.2 764.3,186.5 781.0,185.0 C797.7,183.5 806.6,180.8 820.0,178.0 C833.4,175.2 848.2,171.2 861.5,168.5 C874.8,165.8 886.6,163.7 900.0,162.0 C913.4,160.3 927.8,159.2 942.0,158.3 C956.2,157.4 970.3,156.6 985.0,156.3 C999.7,156.0 1022.5,156.3 1030.0,156.3" fill="none" stroke="#4ecdc4" stroke-width="1.15"/>
<path d="M13.1,204.5 C16.0,205.2 23.6,207.0 30.5,208.5 C37.4,210.0 46.8,211.9 54.5,213.4 C62.2,214.9 70.9,216.1 76.8,217.4 C82.7,218.7 81.1,220.1 90.0,221.0 C98.9,221.9 120.0,222.2 130.0,223.0 C140.0,223.8 143.3,224.5 150.0,226.0 C156.7,227.5 163.3,230.3 170.0,232.0 C176.7,233.7 183.3,235.3 190.0,236.0 C196.7,236.7 204.0,236.7 210.0,236.0 C216.0,235.3 220.7,234.3 226.0,232.0 C231.3,229.7 236.3,225.2 242.0,222.0 C247.7,218.8 253.7,215.2 260.0,213.0 C266.3,210.8 273.3,210.2 280.0,209.0 C286.7,207.8 294.3,206.8 300.0,206.0 C305.7,205.2 303.0,204.7 314.0,204.0 C325.0,203.3 351.7,203.5 366.0,202.0 C380.3,200.5 391.0,197.2 400.0,195.0 C409.0,192.8 413.5,191.1 420.0,189.0 C426.5,186.9 431.8,184.6 439.0,182.5 C446.2,180.4 455.5,178.0 463.0,176.6 C470.5,175.2 476.9,174.6 484.0,174.0 C491.1,173.4 498.3,173.4 505.5,173.0 C512.7,172.6 521.2,172.0 527.0,171.3 C532.8,170.6 529.5,171.3 540.0,168.6 C550.5,165.9 572.0,158.6 590.0,155.0 C608.0,151.4 631.3,147.8 648.0,147.0 C664.7,146.2 676.3,149.7 690.0,150.0 C703.7,150.3 719.3,149.0 730.0,149.0 C740.7,149.0 740.7,150.5 754.0,150.0 C767.3,149.5 793.7,147.7 810.0,146.0 C826.3,144.3 838.7,144.0 852.0,140.0 C865.3,136.0 878.5,126.5 890.0,122.0 C901.5,117.5 912.2,114.8 921.0,113.0 C929.8,111.2 935.8,111.3 943.0,111.0 C950.2,110.7 957.8,110.5 964.0,111.0 C970.2,111.5 975.2,112.5 980.0,114.0 C984.8,115.5 988.5,117.7 993.0,120.0 C997.5,122.3 1000.8,124.2 1007.0,128.0 C1013.2,131.8 1026.2,140.5 1030.0,143.0" fill="none" stroke="#ff6b6b" stroke-width="1.15"/>
<path d="M12.6,178.0 C15.4,183.2 24.0,199.5 29.6,209.0 C35.2,218.5 39.9,225.3 46.0,235.0 C52.1,244.7 60.3,259.8 66.0,267.0 C71.7,274.2 75.7,275.7 80.0,278.0 C84.3,280.3 88.3,281.3 92.0,281.0 C95.7,280.7 98.3,279.8 102.0,276.0 C105.7,272.2 110.0,264.3 114.0,258.0 C118.0,251.7 122.0,243.7 126.0,238.0 C130.0,232.3 134.0,228.0 138.0,224.0 C142.0,220.0 146.0,216.7 150.0,214.0 C154.0,211.3 158.0,209.3 162.0,208.0 C166.0,206.7 169.3,206.8 174.0,206.0 C178.7,205.2 185.3,203.2 190.0,203.0 C194.7,202.8 197.3,204.0 202.0,205.0 C206.7,206.0 212.7,207.7 218.0,209.0 C223.3,210.3 228.7,212.3 234.0,213.0 C239.3,213.7 244.0,213.3 250.0,213.0 C256.0,212.7 264.7,211.5 270.0,211.0 C275.3,210.5 277.7,210.8 282.0,210.0 C286.3,209.2 290.7,207.8 296.0,206.0 C301.3,204.2 305.7,201.8 314.0,199.0 C322.3,196.2 337.0,190.5 346.0,189.0 C355.0,187.5 359.0,192.2 368.0,190.0 C377.0,187.8 390.3,179.3 400.0,176.0 C409.7,172.7 418.0,172.8 426.0,170.0 C434.0,167.2 440.0,160.3 448.0,159.0 C456.0,157.7 465.0,160.3 474.0,162.0 C483.0,163.7 494.3,166.8 502.0,169.0 C509.7,171.2 514.7,174.8 520.0,175.0 C525.3,175.2 527.0,173.3 534.0,170.0 C541.0,166.7 552.0,160.2 562.0,155.0 C572.0,149.8 586.0,143.2 594.0,139.0 C602.0,134.8 601.0,132.0 610.0,130.0 C619.0,128.0 640.0,126.8 648.0,127.0 C656.0,127.2 652.7,127.2 658.0,131.0 C663.3,134.8 671.3,143.5 680.0,150.0 C688.7,156.5 701.8,165.2 710.0,170.0 C718.2,174.8 721.7,180.0 729.0,179.0 C736.3,178.0 745.5,168.8 754.0,164.0 C762.5,159.2 770.7,156.7 780.0,150.0 C789.3,143.3 800.0,131.7 810.0,124.0 C820.0,116.3 830.7,109.5 840.0,104.0 C849.3,98.5 857.7,92.3 866.0,91.0 C874.3,89.7 882.0,94.0 890.0,96.0 C898.0,98.0 907.7,101.3 914.0,103.0 C920.3,104.7 923.7,105.0 928.0,106.0 C932.3,107.0 936.7,107.5 940.0,109.0 C943.3,110.5 945.2,113.5 948.0,115.0 C950.8,116.5 953.7,115.5 957.0,118.0 C960.3,120.5 964.0,126.3 968.0,130.0 C972.0,133.7 977.7,137.5 981.0,140.0 C984.3,142.5 984.8,142.0 988.0,145.0 C991.2,148.0 996.2,153.7 1000.0,158.0 C1003.8,162.3 1007.5,166.3 1011.0,171.0 C1014.5,175.7 1017.8,182.2 1021.0,186.0 C1024.2,189.8 1028.5,192.7 1030.0,194.0" fill="none" stroke="#ffd700" stroke-width="1.2"/>
<line x1="12.24" y1="214.0" x2="12.24" y2="221.0" stroke="#c8c8c8" stroke-width="1"/>
<rect x="11.14" y="215.0" width="2.2" height="4.6" fill="#c8dcc8"/>
<line x1="16.29" y1="233.0" x2="16.29" y2="270.5" stroke="#c8c8c8" stroke-width="1"/>
<rect x="15.24" y="244.3" width="2.1" height="22.4" fill="#c02c58" stroke="#ff85a8" stroke-width="0.8"/>
<line x1="20.35" y1="273.7" x2="20.35" y2="317.4" stroke="#c8c8c8" stroke-width="1"/>
<rect x="19.30" y="275.3" width="2.1" height="26.1" fill="#c02c58" stroke="#ff85a8" stroke-width="0.8"/>
<line x1="24.40" y1="285.3" x2="24.40" y2="368.9" stroke="#c8c8c8" stroke-width="1"/>
<rect x="23.35" y="327.0" width="2.1" height="29.6" fill="#2f8a3a" stroke="#9be09b" stroke-width="0.8"/>
<line x1="28.45" y1="300.3" x2="28.45" y2="318.5" stroke="#c8c8c8" stroke-width="1"/>
<rect x="27.40" y="309.4" width="2.1" height="8.0" fill="#2f8a3a" stroke="#9be09b" stroke-width="0.8"/>
<line x1="32.51" y1="315.0" x2="32.51" y2="335.6" stroke="#c8c8c8" stroke-width="1"/>
<rect x="31.46" y="326.5" width="2.1" height="3.2" fill="#2f8a3a" stroke="#9be09b" stroke-width="0.8"/>
<line x1="36.56" y1="258.2" x2="36.56" y2="298.0" stroke="#c8c8c8" stroke-width="1"/>
<rect x="35.51" y="263.0" width="2.1" height="33.6" fill="#c02c58" stroke="#ff85a8" stroke-width="0.8"/>
<line x1="40.61" y1="291.8" x2="40.61" y2="325.4" stroke="#c8c8c8" stroke-width="1"/>
<rect x="39.51" y="292.8" width="2.2" height="23.5" fill="#dcbcc4"/>
<line x1="44.66" y1="295.6" x2="44.66" y2="308.3" stroke="#c8c8c8" stroke-width="1"/>
<rect x="43.56" y="296.0" width="2.2" height="11.8" fill="#c8dcc8"/>
<line x1="48.72" y1="292.3" x2="48.72" y2="307.8" stroke="#c8c8c8" stroke-width="1"/>
<rect x="47.62" y="301.0" width="2.2" height="2.0" fill="#c8dcc8"/>
<line x1="52.77" y1="298.0" x2="52.77" y2="315.3" stroke="#c8c8c8" stroke-width="1"/>
<rect x="51.67" y="299.0" width="2.2" height="9.8" fill="#c8dcc8"/>
<line x1="56.82" y1="283.7" x2="56.82" y2="299.8" stroke="#c8c8c8" stroke-width="1"/>
<rect x="55.72" y="287.5" width="2.2" height="9.1" fill="#dcbcc4"/>
<line x1="60.88" y1="288.0" x2="60.88" y2="304.6" stroke="#c8c8c8" stroke-width="1"/>
<rect x="59.78" y="290.0" width="2.2" height="6.0" fill="#c8dcc8"/>
<line x1="64.93" y1="261.4" x2="64.93" y2="287.6" stroke="#c8c8c8" stroke-width="1"/>
<rect x="63.88" y="268.9" width="2.1" height="14.9" fill="#2f8a3a" stroke="#9be09b" stroke-width="0.8"/>
<line x1="68.98" y1="255.0" x2="68.98" y2="279.0" stroke="#c8c8c8" stroke-width="1"/>
<rect x="67.93" y="256.0" width="2.1" height="14.0" fill="#2f8a3a" stroke="#9be09b" stroke-width="0.8"/>
<line x1="73.03" y1="254.0" x2="73.03" y2="258.0" stroke="#c8c8c8" stroke-width="1"/>
<rect x="71.94" y="256.0" width="2.2" height="1.5" fill="#c8dcc8"/>
<line x1="77.09" y1="235.2" x2="77.09" y2="244.8" stroke="#c8c8c8" stroke-width="1"/>
<rect x="76.04" y="237.9" width="2.1" height="5.9" fill="#c02c58" stroke="#ff85a8" stroke-width="0.8"/>
<line x1="81.14" y1="241.6" x2="81.14" y2="254.4" stroke="#c8c8c8" stroke-width="1"/>
<rect x="80.09" y="242.7" width="2.1" height="9.6" fill="#c02c58" stroke="#ff85a8" stroke-width="0.8"/>
<line x1="85.19" y1="244.3" x2="85.19" y2="261.4" stroke="#c8c8c8" stroke-width="1"/>
<rect x="84.14" y="250.0" width="2.1" height="2.3" fill="#c02c58" stroke="#ff85a8" stroke-width="0.8"/>
<line x1="89.25" y1="226.0" x2="89.25" y2="241.6" stroke="#c8c8c8" stroke-width="1"/>
<rect x="88.20" y="229.0" width="2.1" height="9.4" fill="#2f8a3a" stroke="#9be09b" stroke-width="0.8"/>
<line x1="93.30" y1="222.0" x2="93.30" y2="235.8" stroke="#c8c8c8" stroke-width="1"/>
<rect x="92.25" y="225.1" width="2.1" height="8.6" fill="#2f8a3a" stroke="#9be09b" stroke-width="0.8"/>
<line x1="97.35" y1="220.5" x2="97.35" y2="246.5" stroke="#c8c8c8" stroke-width="1"/>
<rect x="96.30" y="222.7" width="2.1" height="9.8" fill="#c02c58" stroke="#ff85a8" stroke-width="0.8"/>
<line x1="101.41" y1="220.9" x2="101.41" y2="238.0" stroke="#c8c8c8" stroke-width="1"/>
<rect x="100.31" y="231.5" width="2.2" height="1.0" fill="#c8dcc8"/>
<line x1="105.46" y1="214.5" x2="105.46" y2="229.4" stroke="#c8c8c8" stroke-width="1"/>
<rect x="104.41" y="219.3" width="2.1" height="8.5" fill="#2f8a3a" stroke="#9be09b" stroke-width="0.8"/>
<line x1="109.51" y1="212.3" x2="109.51" y2="218.7" stroke="#c8c8c8" stroke-width="1"/>
<rect x="108.41" y="216.5" width="2.2" height="1.0" fill="#c8dcc8"/>
<line x1="113.56" y1="178.1" x2="113.56" y2="206.0" stroke="#c8c8c8" stroke-width="1"/>
<rect x="112.52" y="194.2" width="2.1" height="7.4" fill="#2f8a3a" stroke="#9be09b" stroke-width="0.8"/>
<line x1="117.62" y1="183.0" x2="117.62" y2="196.0" stroke="#c8c8c8" stroke-width="1"/>
<rect x="116.52" y="184.5" width="2.2" height="7.5" fill="#c8dcc8"/>
<line x1="121.67" y1="183.0" x2="121.67" y2="185.5" stroke="#c8c8c8" stroke-width="1"/>
<rect x="120.57" y="184.0" width="2.2" height="1.0" fill="#c8dcc8"/>
<line x1="125.72" y1="192.0" x2="125.72" y2="216.6" stroke="#c8c8c8" stroke-width="1"/>
<rect x="124.62" y="194.0" width="2.2" height="6.6" fill="#c8dcc8"/>
<line x1="129.78" y1="186.0" x2="129.78" y2="204.8" stroke="#c8c8c8" stroke-width="1"/>
<rect x="128.68" y="187.8" width="2.2" height="14.9" fill="#dcbcc4"/>
<line x1="133.83" y1="192.0" x2="133.83" y2="204.0" stroke="#c8c8c8" stroke-width="1"/>
<rect x="132.73" y="194.0" width="2.2" height="8.7" fill="#c8dcc8"/>
<line x1="137.88" y1="187.2" x2="137.88" y2="196.0" stroke="#c8c8c8" stroke-width="1"/>
<rect x="136.83" y="188.8" width="2.1" height="4.2" fill="#c02c58" stroke="#ff85a8" stroke-width="0.8"/>
<line x1="141.94" y1="193.0" x2="141.94" y2="208.0" stroke="#c8c8c8" stroke-width="1"/>
<rect x="140.84" y="195.3" width="2.2" height="1.0" fill="#c8dcc8"/>
<line x1="145.99" y1="199.5" x2="145.99" y2="209.1" stroke="#c8c8c8" stroke-width="1"/>
<rect x="144.94" y="202.2" width="2.1" height="6.4" fill="#c02c58" stroke="#ff85a8" stroke-width="0.8"/>
<line x1="150.04" y1="199.0" x2="150.04" y2="233.7" stroke="#c8c8c8" stroke-width="1"/>
<rect x="148.99" y="207.5" width="2.1" height="15.0" fill="#c02c58" stroke="#ff85a8" stroke-width="0.8"/>
<line x1="154.09" y1="202.0" x2="154.09" y2="210.0" stroke="#c8c8c8" stroke-width="1"/>
<rect x="153.04" y="203.2" width="2.1" height="5.4" fill="#2f8a3a" stroke="#9be09b" stroke-width="0.8"/>
<line x1="158.15" y1="191.5" x2="158.15" y2="204.8" stroke="#c8c8c8" stroke-width="1"/>
<rect x="157.10" y="195.8" width="2.1" height="8.0" fill="#2f8a3a" stroke="#9be09b" stroke-width="0.8"/>
<line x1="162.20" y1="192.6" x2="162.20" y2="208.0" stroke="#c8c8c8" stroke-width="1"/>
<rect x="161.15" y="194.2" width="2.1" height="12.2" fill="#c02c58" stroke="#ff85a8" stroke-width="0.8"/>
<line x1="166.25" y1="203.0" x2="166.25" y2="222.0" stroke="#c8c8c8" stroke-width="1"/>
<rect x="165.20" y="203.2" width="2.1" height="18.8" fill="#c02c58" stroke="#ff85a8" stroke-width="0.8"/>
<line x1="170.31" y1="210.2" x2="170.31" y2="224.6" stroke="#c8c8c8" stroke-width="1"/>
<rect x="169.26" y="218.2" width="2.1" height="5.8" fill="#c02c58" stroke="#ff85a8" stroke-width="0.8"/>
<line x1="174.36" y1="215.5" x2="174.36" y2="230.5" stroke="#c8c8c8" stroke-width="1"/>
<rect x="173.31" y="218.2" width="2.1" height="9.1" fill="#2f8a3a" stroke="#9be09b" stroke-width="0.8"/>
<line x1="178.41" y1="214.0" x2="178.41" y2="229.4" stroke="#c8c8c8" stroke-width="1"/>
<rect x="177.31" y="217.0" width="2.2" height="2.3" fill="#c8dcc8"/>
<line x1="182.47" y1="202.0" x2="182.47" y2="210.0" stroke="#c8c8c8" stroke-width="1"/>
<rect x="181.37" y="204.3" width="2.2" height="1.0" fill="#c8dcc8"/>
<line x1="186.52" y1="199.5" x2="186.52" y2="210.0" stroke="#c8c8c8" stroke-width="1"/>
<rect x="185.42" y="201.6" width="2.2" height="1.6" fill="#c8dcc8"/>
<line x1="190.57" y1="200.0" x2="190.57" y2="208.0" stroke="#c8c8c8" stroke-width="1"/>
<rect x="189.47" y="201.6" width="2.2" height="1.6" fill="#c8dcc8"/>
<line x1="194.62" y1="202.0" x2="194.62" y2="205.0" stroke="#c8c8c8" stroke-width="1"/>
<rect x="193.53" y="203.8" width="2.2" height="1.0" fill="#c8dcc8"/>
<line x1="198.68" y1="198.4" x2="198.68" y2="207.0" stroke="#c8c8c8" stroke-width="1"/>
<rect x="197.58" y="201.0" width="2.2" height="1.0" fill="#c8dcc8"/>
<line x1="202.73" y1="195.1" x2="202.73" y2="207.4" stroke="#c8c8c8" stroke-width="1"/>
<rect x="201.63" y="200.0" width="2.2" height="1.5" fill="#c8dcc8"/>
<line x1="206.78" y1="201.0" x2="206.78" y2="214.9" stroke="#c8c8c8" stroke-width="1"/>
<rect x="205.68" y="202.0" width="2.2" height="10.7" fill="#dcbcc4"/>
<line x1="210.84" y1="211.0" x2="210.84" y2="224.0" stroke="#c8c8c8" stroke-width="1"/>
<rect x="209.74" y="213.8" width="2.2" height="8.6" fill="#c8dcc8"/>
<line x1="214.89" y1="208.5" x2="214.89" y2="217.5" stroke="#c8c8c8" stroke-width="1"/>
<rect x="213.79" y="212.0" width="2.2" height="5.0" fill="#c8dcc8"/>
<line x1="218.94" y1="212.2" x2="218.94" y2="222.4" stroke="#c8c8c8" stroke-width="1"/>
<rect x="217.84" y="216.0" width="2.2" height="1.5" fill="#dcbcc4"/>
<line x1="223.00" y1="217.0" x2="223.00" y2="228.2" stroke="#c8c8c8" stroke-width="1"/>
<rect x="221.95" y="218.6" width="2.1" height="7.0" fill="#c02c58" stroke="#ff85a8" stroke-width="0.8"/>
<line x1="227.05" y1="228.8" x2="227.05" y2="236.2" stroke="#c8c8c8" stroke-width="1"/>
<rect x="226.00" y="232.5" width="2.1" height="2.7" fill="#c02c58" stroke="#ff85a8" stroke-width="0.8"/>
<line x1="231.10" y1="221.3" x2="231.10" y2="234.0" stroke="#c8c8c8" stroke-width="1"/>
<rect x="230.05" y="229.3" width="2.1" height="2.1" fill="#c02c58" stroke="#ff85a8" stroke-width="0.8"/>
<line x1="235.16" y1="226.6" x2="235.16" y2="238.4" stroke="#c8c8c8" stroke-width="1"/>
<rect x="234.06" y="232.5" width="2.2" height="1.1" fill="#c8dcc8"/>
<line x1="239.21" y1="209.5" x2="239.21" y2="220.2" stroke="#c8c8c8" stroke-width="1"/>
<rect x="238.11" y="212.0" width="2.2" height="6.0" fill="#c8dcc8"/>
<line x1="243.26" y1="209.5" x2="243.26" y2="220.7" stroke="#c8c8c8" stroke-width="1"/>
<rect x="242.21" y="211.1" width="2.1" height="7.5" fill="#c02c58" stroke="#ff85a8" stroke-width="0.8"/>
<line x1="247.31" y1="212.7" x2="247.31" y2="220.2" stroke="#c8c8c8" stroke-width="1"/>
<rect x="246.21" y="214.9" width="2.2" height="1.6" fill="#c8dcc8"/>
<line x1="251.37" y1="189.8" x2="251.37" y2="211.7" stroke="#c8c8c8" stroke-width="1"/>
<rect x="250.32" y="190.8" width="2.1" height="20.3" fill="#2f8a3a" stroke="#9be09b" stroke-width="0.8"/>
<line x1="255.42" y1="185.0" x2="255.42" y2="207.4" stroke="#c8c8c8" stroke-width="1"/>
<rect x="254.37" y="186.0" width="2.1" height="20.9" fill="#c02c58" stroke="#ff85a8" stroke-width="0.8"/>
<line x1="259.47" y1="204.7" x2="259.47" y2="218.6" stroke="#c8c8c8" stroke-width="1"/>
<rect x="258.42" y="207.4" width="2.1" height="4.8" fill="#c02c58" stroke="#ff85a8" stroke-width="0.8"/>
<line x1="263.53" y1="199.4" x2="263.53" y2="209.0" stroke="#c8c8c8" stroke-width="1"/>
<rect x="262.48" y="200.4" width="2.1" height="7.0" fill="#2f8a3a" stroke="#9be09b" stroke-width="0.8"/>
<line x1="267.58" y1="181.2" x2="267.58" y2="197.2" stroke="#c8c8c8" stroke-width="1"/>
<rect x="266.53" y="191.4" width="2.1" height="4.2" fill="#c02c58" stroke="#ff85a8" stroke-width="0.8"/>
<line x1="271.63" y1="199.4" x2="271.63" y2="211.5" stroke="#c8c8c8" stroke-width="1"/>
<rect x="270.53" y="201.0" width="2.2" height="10.1" fill="#dcbcc4"/>
<line x1="275.69" y1="203.1" x2="275.69" y2="213.8" stroke="#c8c8c8" stroke-width="1"/>
<rect x="274.58" y="204.2" width="2.2" height="4.3" fill="#c8dcc8"/>
<line x1="279.74" y1="200.0" x2="279.74" y2="209.5" stroke="#c8c8c8" stroke-width="1"/>
<rect x="278.64" y="201.0" width="2.2" height="8.0" fill="#dcbcc4"/>
<line x1="283.79" y1="176.4" x2="283.79" y2="206.9" stroke="#c8c8c8" stroke-width="1"/>
<rect x="282.69" y="183.4" width="2.2" height="22.9" fill="#c8dcc8"/>
<line x1="287.84" y1="176.4" x2="287.84" y2="183.4" stroke="#c8c8c8" stroke-width="1"/>
<rect x="286.74" y="179.6" width="2.2" height="3.2" fill="#c8dcc8"/>
<line x1="291.90" y1="182.0" x2="291.90" y2="192.0" stroke="#c8c8c8" stroke-width="1"/>
<rect x="290.80" y="183.9" width="2.2" height="6.9" fill="#dcbcc4"/>
<line x1="295.95" y1="196.2" x2="295.95" y2="204.2" stroke="#c8c8c8" stroke-width="1"/>
<rect x="294.85" y="198.0" width="2.2" height="1.0" fill="#c8dcc8"/>
<line x1="300.00" y1="190.3" x2="300.00" y2="205.3" stroke="#c8c8c8" stroke-width="1"/>
<rect x="298.95" y="195.1" width="2.1" height="9.6" fill="#c02c58" stroke="#ff85a8" stroke-width="0.8"/>
<line x1="304.06" y1="195.0" x2="304.06" y2="205.0" stroke="#c8c8c8" stroke-width="1"/>
<rect x="302.96" y="197.0" width="2.2" height="1.0" fill="#c8dcc8"/>
<line x1="308.11" y1="178.0" x2="308.11" y2="195.1" stroke="#c8c8c8" stroke-width="1"/>
<rect x="307.06" y="180.7" width="2.1" height="12.3" fill="#2f8a3a" stroke="#9be09b" stroke-width="0.8"/>
<line x1="312.16" y1="173.0" x2="312.16" y2="190.6" stroke="#c8c8c8" stroke-width="1"/>
<rect x="311.11" y="175.1" width="2.1" height="12.8" fill="#c02c58" stroke="#ff85a8" stroke-width="0.8"/>
<line x1="316.22" y1="178.3" x2="316.22" y2="193.8" stroke="#c8c8c8" stroke-width="1"/>
<rect x="315.12" y="185.3" width="2.2" height="1.6" fill="#c8dcc8"/>
<line x1="320.27" y1="186.0" x2="320.27" y2="205.6" stroke="#c8c8c8" stroke-width="1"/>
<rect x="319.22" y="188.0" width="2.1" height="9.5" fill="#c02c58" stroke="#ff85a8" stroke-width="0.8"/>
<line x1="324.32" y1="174.0" x2="324.32" y2="185.3" stroke="#c8c8c8" stroke-width="1"/>
<rect x="323.27" y="176.2" width="2.1" height="2.6" fill="#2f8a3a" stroke="#9be09b" stroke-width="0.8"/>
<line x1="328.37" y1="163.9" x2="328.37" y2="181.0" stroke="#c8c8c8" stroke-width="1"/>
<rect x="327.32" y="169.2" width="2.1" height="9.6" fill="#c02c58" stroke="#ff85a8" stroke-width="0.8"/>
<line x1="332.43" y1="175.0" x2="332.43" y2="186.3" stroke="#c8c8c8" stroke-width="1"/>
<rect x="331.38" y="176.7" width="2.1" height="5.3" fill="#2f8a3a" stroke="#9be09b" stroke-width="0.8"/>
<line x1="336.48" y1="163.4" x2="336.48" y2="183.7" stroke="#c8c8c8" stroke-width="1"/>
<rect x="335.43" y="166.0" width="2.1" height="16.6" fill="#c02c58" stroke="#ff85a8" stroke-width="0.8"/>
<line x1="340.53" y1="172.4" x2="340.53" y2="181.5" stroke="#c8c8c8" stroke-width="1"/>
<rect x="339.48" y="178.3" width="2.1" height="2.7" fill="#2f8a3a" stroke="#9be09b" stroke-width="0.8"/>
<line x1="344.59" y1="166.6" x2="344.59" y2="181.0" stroke="#c8c8c8" stroke-width="1"/>
<rect x="343.54" y="173.0" width="2.1" height="4.2" fill="#2f8a3a" stroke="#9be09b" stroke-width="0.8"/>
<line x1="348.64" y1="167.0" x2="348.64" y2="186.3" stroke="#c8c8c8" stroke-width="1"/>
<rect x="347.54" y="173.0" width="2.2" height="12.8" fill="#dcbcc4"/>
<line x1="352.69" y1="190.0" x2="352.69" y2="221.0" stroke="#c8c8c8" stroke-width="1"/>
<rect x="351.59" y="192.7" width="2.2" height="27.8" fill="#dcbcc4"/>
<line x1="356.75" y1="204.0" x2="356.75" y2="219.4" stroke="#c8c8c8" stroke-width="1"/>
<rect x="355.64" y="205.6" width="2.2" height="12.8" fill="#c8dcc8"/>
<line x1="360.80" y1="195.4" x2="360.80" y2="206.6" stroke="#c8c8c8" stroke-width="1"/>
<rect x="359.70" y="199.0" width="2.2" height="3.0" fill="#c8dcc8"/>
<line x1="364.85" y1="193.0" x2="364.85" y2="206.0" stroke="#c8c8c8" stroke-width="1"/>
<rect x="363.75" y="193.8" width="2.2" height="11.8" fill="#dcbcc4"/>
<line x1="368.90" y1="166.0" x2="368.90" y2="215.2" stroke="#c8c8c8" stroke-width="1"/>
<rect x="367.80" y="178.3" width="2.2" height="35.8" fill="#c8dcc8"/>
<line x1="372.96" y1="160.0" x2="372.96" y2="178.3" stroke="#c8c8c8" stroke-width="1"/>
<rect x="371.91" y="161.8" width="2.1" height="9.0" fill="#2f8a3a" stroke="#9be09b" stroke-width="0.8"/>
<line x1="377.01" y1="157.0" x2="377.01" y2="178.3" stroke="#c8c8c8" stroke-width="1"/>
<rect x="375.96" y="158.0" width="2.1" height="17.6" fill="#c02c58" stroke="#ff85a8" stroke-width="0.8"/>
<line x1="381.06" y1="165.0" x2="381.06" y2="177.2" stroke="#c8c8c8" stroke-width="1"/>
<rect x="380.01" y="166.0" width="2.1" height="5.4" fill="#2f8a3a" stroke="#9be09b" stroke-width="0.8"/>
<line x1="385.12" y1="159.6" x2="385.12" y2="170.8" stroke="#c8c8c8" stroke-width="1"/>
<rect x="384.07" y="161.8" width="2.1" height="8.0" fill="#c02c58" stroke="#ff85a8" stroke-width="0.8"/>
<line x1="389.17" y1="158.5" x2="389.17" y2="169.2" stroke="#c8c8c8" stroke-width="1"/>
<rect x="388.12" y="160.1" width="2.1" height="8.6" fill="#2f8a3a" stroke="#9be09b" stroke-width="0.8"/>
<line x1="393.22" y1="150.0" x2="393.22" y2="160.7" stroke="#c8c8c8" stroke-width="1"/>
<rect x="392.17" y="155.3" width="2.1" height="2.2" fill="#c02c58" stroke="#ff85a8" stroke-width="0.8"/>
<line x1="397.27" y1="158.5" x2="397.27" y2="166.0" stroke="#c8c8c8" stroke-width="1"/>
<rect x="396.17" y="160.0" width="2.2" height="2.0" fill="#c8dcc8"/>
<line x1="401.33" y1="148.0" x2="401.33" y2="158.0" stroke="#c8c8c8" stroke-width="1"/>
<rect x="400.28" y="150.0" width="2.1" height="6.4" fill="#2f8a3a" stroke="#9be09b" stroke-width="0.8"/>
<line x1="405.38" y1="150.0" x2="405.38" y2="160.1" stroke="#c8c8c8" stroke-width="1"/>
<rect x="404.33" y="153.2" width="2.1" height="6.4" fill="#c02c58" stroke="#ff85a8" stroke-width="0.8"/>
<line x1="409.43" y1="157.5" x2="409.43" y2="163.4" stroke="#c8c8c8" stroke-width="1"/>
<rect x="408.38" y="159.0" width="2.1" height="2.2" fill="#2f8a3a" stroke="#9be09b" stroke-width="0.8"/>
<line x1="413.49" y1="148.0" x2="413.49" y2="161.8" stroke="#c8c8c8" stroke-width="1"/>
<rect x="412.44" y="150.0" width="2.1" height="11.2" fill="#2f8a3a" stroke="#9be09b" stroke-width="0.8"/>
<line x1="417.54" y1="150.0" x2="417.54" y2="158.5" stroke="#c8c8c8" stroke-width="1"/>
<rect x="416.44" y="153.0" width="2.2" height="1.5" fill="#c8dcc8"/>
<line x1="421.59" y1="150.4" x2="421.59" y2="161.1" stroke="#c8c8c8" stroke-width="1"/>
<rect x="420.49" y="152.0" width="2.2" height="6.0" fill="#c8dcc8"/>
<line x1="425.65" y1="151.0" x2="425.65" y2="166.0" stroke="#c8c8c8" stroke-width="1"/>
<rect x="424.55" y="152.0" width="2.2" height="11.3" fill="#dcbcc4"/>
<line x1="429.70" y1="146.7" x2="429.70" y2="156.3" stroke="#c8c8c8" stroke-width="1"/>
<rect x="428.60" y="148.0" width="2.2" height="6.7" fill="#c8dcc8"/>
<line x1="433.75" y1="138.7" x2="433.75" y2="155.8" stroke="#c8c8c8" stroke-width="1"/>
<rect x="432.65" y="149.0" width="2.2" height="5.7" fill="#c8dcc8"/>
<line x1="437.81" y1="139.8" x2="437.81" y2="146.7" stroke="#c8c8c8" stroke-width="1"/>
<rect x="436.70" y="140.8" width="2.2" height="4.8" fill="#c8dcc8"/>
<line x1="441.86" y1="145.6" x2="441.86" y2="174.0" stroke="#c8c8c8" stroke-width="1"/>
<rect x="440.76" y="146.0" width="2.2" height="28.0" fill="#dcbcc4"/>
<line x1="445.91" y1="160.0" x2="445.91" y2="172.9" stroke="#c8c8c8" stroke-width="1"/>
<rect x="444.86" y="166.0" width="2.1" height="5.8" fill="#c02c58" stroke="#ff85a8" stroke-width="0.8"/>
<line x1="449.96" y1="167.5" x2="449.96" y2="177.7" stroke="#c8c8c8" stroke-width="1"/>
<rect x="448.91" y="169.7" width="2.1" height="2.1" fill="#2f8a3a" stroke="#9be09b" stroke-width="0.8"/>
<line x1="454.02" y1="163.3" x2="454.02" y2="185.7" stroke="#c8c8c8" stroke-width="1"/>
<rect x="452.97" y="164.9" width="2.1" height="16.5" fill="#c02c58" stroke="#ff85a8" stroke-width="0.8"/>
<line x1="458.07" y1="163.3" x2="458.07" y2="177.1" stroke="#c8c8c8" stroke-width="1"/>
<rect x="457.02" y="168.0" width="2.1" height="6.5" fill="#2f8a3a" stroke="#9be09b" stroke-width="0.8"/>
<line x1="462.12" y1="164.9" x2="462.12" y2="176.0" stroke="#c8c8c8" stroke-width="1"/>
<rect x="461.07" y="167.0" width="2.1" height="7.5" fill="#c02c58" stroke="#ff85a8" stroke-width="0.8"/>
<line x1="466.18" y1="170.2" x2="466.18" y2="182.5" stroke="#c8c8c8" stroke-width="1"/>
<rect x="465.13" y="171.8" width="2.1" height="2.7" fill="#c02c58" stroke="#ff85a8" stroke-width="0.8"/>
<line x1="470.23" y1="163.3" x2="470.23" y2="178.2" stroke="#c8c8c8" stroke-width="1"/>
<rect x="469.13" y="170.0" width="2.2" height="1.0" fill="#c8dcc8"/>
<line x1="474.28" y1="169.0" x2="474.28" y2="179.3" stroke="#c8c8c8" stroke-width="1"/>
<rect x="473.23" y="170.2" width="2.1" height="4.3" fill="#c02c58" stroke="#ff85a8" stroke-width="0.8"/>
<line x1="478.33" y1="164.3" x2="478.33" y2="177.7" stroke="#c8c8c8" stroke-width="1"/>
<rect x="477.23" y="168.0" width="2.2" height="1.0" fill="#c8dcc8"/>
<line x1="482.39" y1="166.0" x2="482.39" y2="182.0" stroke="#c8c8c8" stroke-width="1"/>
<rect x="481.34" y="170.2" width="2.1" height="11.2" fill="#c02c58" stroke="#ff85a8" stroke-width="0.8"/>
<line x1="486.44" y1="181.4" x2="486.44" y2="190.0" stroke="#c8c8c8" stroke-width="1"/>
<rect x="485.39" y="182.5" width="2.1" height="1.1" fill="#c02c58" stroke="#ff85a8" stroke-width="0.8"/>
<line x1="490.49" y1="168.6" x2="490.49" y2="180.4" stroke="#c8c8c8" stroke-width="1"/>
<rect x="489.44" y="175.5" width="2.1" height="4.3" fill="#2f8a3a" stroke="#9be09b" stroke-width="0.8"/>
<line x1="494.55" y1="169.0" x2="494.55" y2="178.2" stroke="#c8c8c8" stroke-width="1"/>
<rect x="493.50" y="170.2" width="2.1" height="4.3" fill="#c02c58" stroke="#ff85a8" stroke-width="0.8"/>
<line x1="498.60" y1="170.0" x2="498.60" y2="175.0" stroke="#c8c8c8" stroke-width="1"/>
<rect x="497.50" y="171.5" width="2.2" height="1.0" fill="#c8dcc8"/>
<line x1="502.65" y1="168.6" x2="502.65" y2="182.5" stroke="#c8c8c8" stroke-width="1"/>
<rect x="501.55" y="172.0" width="2.2" height="6.0" fill="#c8dcc8"/>
<line x1="506.71" y1="175.5" x2="506.71" y2="182.5" stroke="#c8c8c8" stroke-width="1"/>
<rect x="505.61" y="176.0" width="2.2" height="5.0" fill="#c8dcc8"/>
<line x1="510.76" y1="180.0" x2="510.76" y2="198.5" stroke="#c8c8c8" stroke-width="1"/>
<rect x="509.66" y="181.4" width="2.2" height="7.5" fill="#dcbcc4"/>
<line x1="514.81" y1="168.6" x2="514.81" y2="182.5" stroke="#c8c8c8" stroke-width="1"/>
<rect x="513.71" y="170.0" width="2.2" height="11.4" fill="#c8dcc8"/>
<line x1="518.87" y1="168.6" x2="518.87" y2="183.6" stroke="#c8c8c8" stroke-width="1"/>
<rect x="517.76" y="171.3" width="2.2" height="11.2" fill="#dcbcc4"/>
<line x1="522.92" y1="179.5" x2="522.92" y2="181.5" stroke="#c8c8c8" stroke-width="1"/>
<rect x="521.82" y="180.4" width="2.2" height="1.0" fill="#c8dcc8"/>
<line x1="526.97" y1="162.7" x2="526.97" y2="179.8" stroke="#c8c8c8" stroke-width="1"/>
<rect x="525.92" y="165.4" width="2.1" height="8.6" fill="#2f8a3a" stroke="#9be09b" stroke-width="0.8"/>
<line x1="531.02" y1="135.0" x2="531.02" y2="159.0" stroke="#c8c8c8" stroke-width="1"/>
<rect x="529.97" y="136.4" width="2.1" height="21.6" fill="#2f8a3a" stroke="#9be09b" stroke-width="0.8"/>
<line x1="535.08" y1="131.5" x2="535.08" y2="140.3" stroke="#c8c8c8" stroke-width="1"/>
<rect x="534.03" y="132.2" width="2.1" height="4.5" fill="#c02c58" stroke="#ff85a8" stroke-width="0.8"/>
<line x1="539.13" y1="128.3" x2="539.13" y2="139.0" stroke="#c8c8c8" stroke-width="1"/>
<rect x="538.08" y="129.9" width="2.1" height="6.6" fill="#2f8a3a" stroke="#9be09b" stroke-width="0.8"/>
<line x1="543.18" y1="127.2" x2="543.18" y2="137.4" stroke="#c8c8c8" stroke-width="1"/>
<rect x="542.13" y="131.0" width="2.1" height="2.7" fill="#c02c58" stroke="#ff85a8" stroke-width="0.8"/>
<line x1="547.24" y1="123.0" x2="547.24" y2="137.4" stroke="#c8c8c8" stroke-width="1"/>
<rect x="546.19" y="124.0" width="2.1" height="12.9" fill="#2f8a3a" stroke="#9be09b" stroke-width="0.8"/>
<line x1="551.29" y1="110.1" x2="551.29" y2="123.0" stroke="#c8c8c8" stroke-width="1"/>
<rect x="550.24" y="119.2" width="2.1" height="2.7" fill="#c02c58" stroke="#ff85a8" stroke-width="0.8"/>
<line x1="555.34" y1="116.0" x2="555.34" y2="134.0" stroke="#c8c8c8" stroke-width="1"/>
<rect x="554.29" y="120.8" width="2.1" height="12.9" fill="#c02c58" stroke="#ff85a8" stroke-width="0.8"/>
<line x1="559.39" y1="120.3" x2="559.39" y2="130.0" stroke="#c8c8c8" stroke-width="1"/>
<rect x="558.35" y="121.9" width="2.1" height="5.9" fill="#2f8a3a" stroke="#9be09b" stroke-width="0.8"/>
<line x1="563.45" y1="138.0" x2="563.45" y2="155.6" stroke="#c8c8c8" stroke-width="1"/>
<rect x="562.40" y="139.0" width="2.1" height="6.4" fill="#c02c58" stroke="#ff85a8" stroke-width="0.8"/>
<line x1="567.50" y1="136.0" x2="567.50" y2="147.0" stroke="#c8c8c8" stroke-width="1"/>
<rect x="566.45" y="137.9" width="2.1" height="3.8" fill="#2f8a3a" stroke="#9be09b" stroke-width="0.8"/>
<line x1="571.55" y1="126.0" x2="571.55" y2="146.0" stroke="#c8c8c8" stroke-width="1"/>
<rect x="570.50" y="127.2" width="2.1" height="5.4" fill="#2f8a3a" stroke="#9be09b" stroke-width="0.8"/>
<line x1="575.61" y1="137.0" x2="575.61" y2="149.1" stroke="#c8c8c8" stroke-width="1"/>
<rect x="574.51" y="137.9" width="2.2" height="10.2" fill="#c8dcc8"/>
<line x1="579.66" y1="126.0" x2="579.66" y2="142.7" stroke="#c8c8c8" stroke-width="1"/>
<rect x="578.56" y="127.2" width="2.2" height="13.4" fill="#c8dcc8"/>
<line x1="583.71" y1="125.0" x2="583.71" y2="142.2" stroke="#c8c8c8" stroke-width="1"/>
<rect x="582.61" y="126.2" width="2.2" height="9.1" fill="#dcbcc4"/>
<line x1="587.77" y1="128.0" x2="587.77" y2="140.6" stroke="#c8c8c8" stroke-width="1"/>
<rect x="586.67" y="129.5" width="2.2" height="5.5" fill="#c8dcc8"/>
<line x1="591.82" y1="138.5" x2="591.82" y2="146.0" stroke="#c8c8c8" stroke-width="1"/>
<rect x="590.72" y="140.0" width="2.2" height="1.0" fill="#c8dcc8"/>
<line x1="595.87" y1="128.0" x2="595.87" y2="138.0" stroke="#c8c8c8" stroke-width="1"/>
<rect x="594.77" y="128.8" width="2.2" height="8.6" fill="#c8dcc8"/>
<line x1="599.92" y1="118.0" x2="599.92" y2="131.0" stroke="#c8c8c8" stroke-width="1"/>
<rect x="598.88" y="119.8" width="2.1" height="9.0" fill="#2f8a3a" stroke="#9be09b" stroke-width="0.8"/>
<line x1="603.98" y1="118.2" x2="603.98" y2="126.7" stroke="#c8c8c8" stroke-width="1"/>
<rect x="602.93" y="120.8" width="2.1" height="5.4" fill="#2f8a3a" stroke="#9be09b" stroke-width="0.8"/>
<line x1="608.03" y1="117.1" x2="608.03" y2="126.0" stroke="#c8c8c8" stroke-width="1"/>
<rect x="606.93" y="123.5" width="2.2" height="1.0" fill="#c8dcc8"/>
<line x1="612.08" y1="115.5" x2="612.08" y2="126.7" stroke="#c8c8c8" stroke-width="1"/>
<rect x="610.98" y="119.2" width="2.2" height="1.1" fill="#c8dcc8"/>
<line x1="616.14" y1="117.6" x2="616.14" y2="125.1" stroke="#c8c8c8" stroke-width="1"/>
<rect x="615.09" y="118.2" width="2.1" height="5.8" fill="#c02c58" stroke="#ff85a8" stroke-width="0.8"/>
<line x1="620.19" y1="118.7" x2="620.19" y2="127.2" stroke="#c8c8c8" stroke-width="1"/>
<rect x="619.14" y="119.2" width="2.1" height="7.5" fill="#2f8a3a" stroke="#9be09b" stroke-width="0.8"/>
<line x1="624.24" y1="122.4" x2="624.24" y2="134.2" stroke="#c8c8c8" stroke-width="1"/>
<rect x="623.19" y="127.8" width="2.1" height="4.2" fill="#2f8a3a" stroke="#9be09b" stroke-width="0.8"/>
<line x1="628.30" y1="123.0" x2="628.30" y2="146.0" stroke="#c8c8c8" stroke-width="1"/>
<rect x="627.25" y="125.1" width="2.1" height="15.5" fill="#2f8a3a" stroke="#9be09b" stroke-width="0.8"/>
<line x1="632.35" y1="119.2" x2="632.35" y2="136.9" stroke="#c8c8c8" stroke-width="1"/>
<rect x="631.30" y="129.9" width="2.1" height="5.9" fill="#c02c58" stroke="#ff85a8" stroke-width="0.8"/>
<line x1="636.40" y1="135.3" x2="636.40" y2="135.8" stroke="#c8c8c8" stroke-width="1"/>
<rect x="635.30" y="135.3" width="2.2" height="1.0" fill="#c8dcc8"/>
<line x1="640.46" y1="116.0" x2="640.46" y2="133.1" stroke="#c8c8c8" stroke-width="1"/>
<rect x="639.41" y="123.0" width="2.1" height="7.4" fill="#2f8a3a" stroke="#9be09b" stroke-width="0.8"/>
<line x1="644.51" y1="113.9" x2="644.51" y2="126.2" stroke="#c8c8c8" stroke-width="1"/>
<rect x="643.46" y="115.5" width="2.1" height="3.2" fill="#c02c58" stroke="#ff85a8" stroke-width="0.8"/>
<line x1="648.56" y1="102.1" x2="648.56" y2="116.0" stroke="#c8c8c8" stroke-width="1"/>
<rect x="647.51" y="109.1" width="2.1" height="3.7" fill="#2f8a3a" stroke="#9be09b" stroke-width="0.8"/>
<line x1="652.61" y1="124.0" x2="652.61" y2="180.0" stroke="#c8c8c8" stroke-width="1"/>
<rect x="651.51" y="126.0" width="2.2" height="53.0" fill="#dcbcc4"/>
<line x1="656.67" y1="166.0" x2="656.67" y2="183.8" stroke="#c8c8c8" stroke-width="1"/>
<rect x="655.57" y="167.8" width="2.2" height="14.9" fill="#c8dcc8"/>
<line x1="660.72" y1="168.0" x2="660.72" y2="194.5" stroke="#c8c8c8" stroke-width="1"/>
<rect x="659.62" y="170.0" width="2.2" height="20.2" fill="#dcbcc4"/>
<line x1="664.77" y1="194.0" x2="664.77" y2="209.4" stroke="#c8c8c8" stroke-width="1"/>
<rect x="663.67" y="195.6" width="2.2" height="12.8" fill="#c8dcc8"/>
<line x1="668.83" y1="196.0" x2="668.83" y2="211.0" stroke="#c8c8c8" stroke-width="1"/>
<rect x="667.73" y="197.7" width="2.2" height="12.8" fill="#c8dcc8"/>
<line x1="672.88" y1="188.0" x2="672.88" y2="201.4" stroke="#c8c8c8" stroke-width="1"/>
<rect x="671.78" y="190.0" width="2.2" height="10.0" fill="#c8dcc8"/>
<line x1="676.93" y1="198.8" x2="676.93" y2="209.4" stroke="#c8c8c8" stroke-width="1"/>
<rect x="675.88" y="202.0" width="2.1" height="6.4" fill="#2f8a3a" stroke="#9be09b" stroke-width="0.8"/>
<line x1="680.99" y1="187.5" x2="680.99" y2="198.2" stroke="#c8c8c8" stroke-width="1"/>
<rect x="679.94" y="189.7" width="2.1" height="5.9" fill="#2f8a3a" stroke="#9be09b" stroke-width="0.8"/>
<line x1="685.04" y1="176.3" x2="685.04" y2="191.3" stroke="#c8c8c8" stroke-width="1"/>
<rect x="683.99" y="177.9" width="2.1" height="12.3" fill="#2f8a3a" stroke="#9be09b" stroke-width="0.8"/>
<line x1="689.09" y1="172.6" x2="689.09" y2="184.9" stroke="#c8c8c8" stroke-width="1"/>
<rect x="688.04" y="173.7" width="2.1" height="2.1" fill="#c02c58" stroke="#ff85a8" stroke-width="0.8"/>
<line x1="693.14" y1="175.3" x2="693.14" y2="179.5" stroke="#c8c8c8" stroke-width="1"/>
<rect x="692.04" y="176.4" width="2.2" height="1.0" fill="#c8dcc8"/>
<line x1="697.20" y1="172.0" x2="697.20" y2="179.5" stroke="#c8c8c8" stroke-width="1"/>
<rect x="696.15" y="174.2" width="2.1" height="4.3" fill="#2f8a3a" stroke="#9be09b" stroke-width="0.8"/>
<line x1="701.25" y1="176.8" x2="701.25" y2="189.1" stroke="#c8c8c8" stroke-width="1"/>
<rect x="700.20" y="178.5" width="2.1" height="3.2" fill="#c02c58" stroke="#ff85a8" stroke-width="0.8"/>
<line x1="705.30" y1="170.4" x2="705.30" y2="184.9" stroke="#c8c8c8" stroke-width="1"/>
<rect x="704.25" y="177.4" width="2.1" height="4.3" fill="#2f8a3a" stroke="#9be09b" stroke-width="0.8"/>
<line x1="709.36" y1="171.5" x2="709.36" y2="181.1" stroke="#c8c8c8" stroke-width="1"/>
<rect x="708.31" y="173.1" width="2.1" height="6.9" fill="#2f8a3a" stroke="#9be09b" stroke-width="0.8"/>
<line x1="713.41" y1="159.8" x2="713.41" y2="174.2" stroke="#c8c8c8" stroke-width="1"/>
<rect x="712.36" y="167.2" width="2.1" height="2.7" fill="#c02c58" stroke="#ff85a8" stroke-width="0.8"/>
<line x1="717.46" y1="155.5" x2="717.46" y2="169.4" stroke="#c8c8c8" stroke-width="1"/>
<rect x="716.41" y="159.2" width="2.1" height="9.6" fill="#2f8a3a" stroke="#9be09b" stroke-width="0.8"/>
<line x1="721.51" y1="154.4" x2="721.51" y2="162.4" stroke="#c8c8c8" stroke-width="1"/>
<rect x="720.41" y="157.1" width="2.2" height="1.0" fill="#c8dcc8"/>
<line x1="725.57" y1="156.0" x2="725.57" y2="162.4" stroke="#c8c8c8" stroke-width="1"/>
<rect x="724.47" y="157.1" width="2.2" height="1.0" fill="#c8dcc8"/>
<line x1="729.62" y1="157.6" x2="729.62" y2="169.4" stroke="#c8c8c8" stroke-width="1"/>
<rect x="728.52" y="160.8" width="2.2" height="5.4" fill="#dcbcc4"/>
<line x1="733.67" y1="140.0" x2="733.67" y2="167.8" stroke="#c8c8c8" stroke-width="1"/>
<rect x="732.57" y="141.0" width="2.2" height="20.4" fill="#c8dcc8"/>
<line x1="737.73" y1="143.7" x2="737.73" y2="143.7" stroke="#c8c8c8" stroke-width="1"/>
<rect x="736.63" y="143.7" width="2.2" height="1.0" fill="#c8dcc8"/>
<line x1="741.78" y1="143.7" x2="741.78" y2="143.7" stroke="#c8c8c8" stroke-width="1"/>
<rect x="740.68" y="143.7" width="2.2" height="1.0" fill="#c8dcc8"/>
<line x1="745.83" y1="141.3" x2="745.83" y2="154.1" stroke="#c8c8c8" stroke-width="1"/>
<rect x="744.73" y="143.0" width="2.2" height="9.0" fill="#c8dcc8"/>
<line x1="749.89" y1="147.5" x2="749.89" y2="147.5" stroke="#c8c8c8" stroke-width="1"/>
<rect x="748.79" y="147.5" width="2.2" height="1.0" fill="#c8dcc8"/>
<line x1="753.94" y1="147.5" x2="753.94" y2="147.5" stroke="#c8c8c8" stroke-width="1"/>
<rect x="752.84" y="147.5" width="2.2" height="1.0" fill="#c8dcc8"/>
<line x1="757.99" y1="145.3" x2="757.99" y2="158.3" stroke="#c8c8c8" stroke-width="1"/>
<rect x="756.94" y="152.8" width="2.1" height="1.3" fill="#2f8a3a" stroke="#9be09b" stroke-width="0.8"/>
<line x1="762.04" y1="140.2" x2="762.04" y2="153.0" stroke="#c8c8c8" stroke-width="1"/>
<rect x="761.00" y="149.3" width="2.1" height="2.1" fill="#c02c58" stroke="#ff85a8" stroke-width="0.8"/>
<line x1="766.10" y1="144.0" x2="766.10" y2="153.0" stroke="#c8c8c8" stroke-width="1"/>
<rect x="765.05" y="146.1" width="2.1" height="4.3" fill="#2f8a3a" stroke="#9be09b" stroke-width="0.8"/>
<line x1="770.15" y1="141.3" x2="770.15" y2="150.9" stroke="#c8c8c8" stroke-width="1"/>
<rect x="769.10" y="142.4" width="2.1" height="7.4" fill="#c02c58" stroke="#ff85a8" stroke-width="0.8"/>
<line x1="774.20" y1="140.0" x2="774.20" y2="152.0" stroke="#c8c8c8" stroke-width="1"/>
<rect x="773.15" y="142.4" width="2.1" height="9.0" fill="#2f8a3a" stroke="#9be09b" stroke-width="0.8"/>
<line x1="778.26" y1="135.4" x2="778.26" y2="148.8" stroke="#c8c8c8" stroke-width="1"/>
<rect x="777.21" y="136.5" width="2.1" height="6.9" fill="#2f8a3a" stroke="#9be09b" stroke-width="0.8"/>
<line x1="782.31" y1="122.6" x2="782.31" y2="134.9" stroke="#c8c8c8" stroke-width="1"/>
<rect x="781.26" y="125.8" width="2.1" height="7.5" fill="#2f8a3a" stroke="#9be09b" stroke-width="0.8"/>
<line x1="786.36" y1="114.6" x2="786.36" y2="130.6" stroke="#c8c8c8" stroke-width="1"/>
<rect x="785.31" y="118.3" width="2.1" height="7.5" fill="#2f8a3a" stroke="#9be09b" stroke-width="0.8"/>
<line x1="790.42" y1="90.6" x2="790.42" y2="108.2" stroke="#c8c8c8" stroke-width="1"/>
<rect x="789.37" y="91.7" width="2.1" height="14.9" fill="#2f8a3a" stroke="#9be09b" stroke-width="0.8"/>
<line x1="794.47" y1="85.3" x2="794.47" y2="109.3" stroke="#c8c8c8" stroke-width="1"/>
<rect x="793.42" y="93.8" width="2.1" height="11.8" fill="#c02c58" stroke="#ff85a8" stroke-width="0.8"/>
<line x1="798.52" y1="94.9" x2="798.52" y2="112.5" stroke="#c8c8c8" stroke-width="1"/>
<rect x="797.47" y="98.1" width="2.1" height="12.8" fill="#2f8a3a" stroke="#9be09b" stroke-width="0.8"/>
<line x1="802.58" y1="83.7" x2="802.58" y2="104.5" stroke="#c8c8c8" stroke-width="1"/>
<rect x="801.53" y="86.3" width="2.1" height="16.1" fill="#2f8a3a" stroke="#9be09b" stroke-width="0.8"/>
<line x1="806.63" y1="72.4" x2="806.63" y2="89.5" stroke="#c8c8c8" stroke-width="1"/>
<rect x="805.53" y="76.0" width="2.2" height="9.3" fill="#c8dcc8"/>
<line x1="810.68" y1="73.0" x2="810.68" y2="88.5" stroke="#c8c8c8" stroke-width="1"/>
<rect x="809.58" y="74.0" width="2.2" height="13.4" fill="#dcbcc4"/>
<line x1="814.73" y1="75.1" x2="814.73" y2="84.2" stroke="#c8c8c8" stroke-width="1"/>
<rect x="813.63" y="76.0" width="2.2" height="5.0" fill="#c8dcc8"/>
<line x1="818.79" y1="75.0" x2="818.79" y2="88.5" stroke="#c8c8c8" stroke-width="1"/>
<rect x="817.69" y="77.8" width="2.2" height="3.2" fill="#dcbcc4"/>
<line x1="822.84" y1="92.2" x2="822.84" y2="107.1" stroke="#c8c8c8" stroke-width="1"/>
<rect x="821.74" y="93.5" width="2.2" height="10.4" fill="#c8dcc8"/>
<line x1="826.89" y1="93.2" x2="826.89" y2="110.9" stroke="#c8c8c8" stroke-width="1"/>
<rect x="825.79" y="100.0" width="2.2" height="2.0" fill="#c8dcc8"/>
<line x1="830.95" y1="97.0" x2="830.95" y2="111.4" stroke="#c8c8c8" stroke-width="1"/>
<rect x="829.90" y="99.1" width="2.1" height="2.2" fill="#c02c58" stroke="#ff85a8" stroke-width="0.8"/>
<line x1="835.00" y1="81.0" x2="835.00" y2="95.9" stroke="#c8c8c8" stroke-width="1"/>
<rect x="833.95" y="86.9" width="2.1" height="6.9" fill="#2f8a3a" stroke="#9be09b" stroke-width="0.8"/>
<line x1="839.05" y1="86.0" x2="839.05" y2="98.6" stroke="#c8c8c8" stroke-width="1"/>
<rect x="838.00" y="87.9" width="2.1" height="9.6" fill="#c02c58" stroke="#ff85a8" stroke-width="0.8"/>
<line x1="843.11" y1="96.4" x2="843.11" y2="102.4" stroke="#c8c8c8" stroke-width="1"/>
<rect x="842.06" y="97.0" width="2.1" height="4.3" fill="#2f8a3a" stroke="#9be09b" stroke-width="0.8"/>
<line x1="847.16" y1="94.3" x2="847.16" y2="102.6" stroke="#c8c8c8" stroke-width="1"/>
<rect x="846.06" y="99.1" width="2.2" height="1.6" fill="#dcbcc4"/>
<line x1="851.21" y1="94.3" x2="851.21" y2="110.9" stroke="#c8c8c8" stroke-width="1"/>
<rect x="850.16" y="102.4" width="2.1" height="6.4" fill="#c02c58" stroke="#ff85a8" stroke-width="0.8"/>
<line x1="855.26" y1="73.5" x2="855.26" y2="97.5" stroke="#c8c8c8" stroke-width="1"/>
<rect x="854.21" y="87.4" width="2.1" height="5.9" fill="#c02c58" stroke="#ff85a8" stroke-width="0.8"/>
<line x1="859.32" y1="87.4" x2="859.32" y2="99.1" stroke="#c8c8c8" stroke-width="1"/>
<rect x="858.27" y="92.2" width="2.1" height="2.7" fill="#2f8a3a" stroke="#9be09b" stroke-width="0.8"/>
<line x1="863.37" y1="78.8" x2="863.37" y2="104.5" stroke="#c8c8c8" stroke-width="1"/>
<rect x="862.32" y="80.4" width="2.1" height="23.0" fill="#2f8a3a" stroke="#9be09b" stroke-width="0.8"/>
<line x1="867.42" y1="62.3" x2="867.42" y2="89.5" stroke="#c8c8c8" stroke-width="1"/>
<rect x="866.37" y="70.3" width="2.1" height="9.1" fill="#c02c58" stroke="#ff85a8" stroke-width="0.8"/>
<line x1="871.48" y1="74.6" x2="871.48" y2="135.2" stroke="#c8c8c8" stroke-width="1"/>
<rect x="870.43" y="75.8" width="2.1" height="58.3" fill="#c02c58" stroke="#ff85a8" stroke-width="0.8"/>
<line x1="875.53" y1="118.6" x2="875.53" y2="142.0" stroke="#c8c8c8" stroke-width="1"/>
<rect x="874.43" y="127.7" width="2.2" height="3.2" fill="#c8dcc8"/>
<line x1="879.58" y1="106.3" x2="879.58" y2="125.6" stroke="#c8c8c8" stroke-width="1"/>
<rect x="878.53" y="109.0" width="2.1" height="14.4" fill="#2f8a3a" stroke="#9be09b" stroke-width="0.8"/>
<line x1="883.63" y1="91.4" x2="883.63" y2="107.4" stroke="#c8c8c8" stroke-width="1"/>
<rect x="882.53" y="93.0" width="2.2" height="14.0" fill="#c8dcc8"/>
<line x1="887.69" y1="85.0" x2="887.69" y2="97.8" stroke="#c8c8c8" stroke-width="1"/>
<rect x="886.59" y="86.0" width="2.2" height="10.7" fill="#c8dcc8"/>
<line x1="891.74" y1="78.5" x2="891.74" y2="98.3" stroke="#c8c8c8" stroke-width="1"/>
<rect x="890.64" y="90.0" width="2.2" height="6.0" fill="#c8dcc8"/>
<line x1="895.79" y1="34.0" x2="895.79" y2="91.4" stroke="#c8c8c8" stroke-width="1"/>
<rect x="894.69" y="46.2" width="2.2" height="45.2" fill="#dcbcc4"/>
<line x1="899.85" y1="88.2" x2="899.85" y2="106.3" stroke="#c8c8c8" stroke-width="1"/>
<rect x="898.75" y="89.0" width="2.2" height="3.0" fill="#c8dcc8"/>
<line x1="903.90" y1="85.0" x2="903.90" y2="141.0" stroke="#c8c8c8" stroke-width="1"/>
<rect x="902.80" y="86.0" width="2.2" height="54.5" fill="#dcbcc4"/>
<line x1="907.95" y1="134.1" x2="907.95" y2="150.0" stroke="#c8c8c8" stroke-width="1"/>
<rect x="906.90" y="138.4" width="2.1" height="9.6" fill="#2f8a3a" stroke="#9be09b" stroke-width="0.8"/>
<line x1="912.01" y1="102.0" x2="912.01" y2="129.8" stroke="#c8c8c8" stroke-width="1"/>
<rect x="910.96" y="110.0" width="2.1" height="19.3" fill="#2f8a3a" stroke="#9be09b" stroke-width="0.8"/>
<line x1="916.06" y1="110.6" x2="916.06" y2="127.7" stroke="#c8c8c8" stroke-width="1"/>
<rect x="915.01" y="115.4" width="2.1" height="8.0" fill="#c02c58" stroke="#ff85a8" stroke-width="0.8"/>
<line x1="920.11" y1="107.0" x2="920.11" y2="126.1" stroke="#c8c8c8" stroke-width="1"/>
<rect x="919.06" y="109.0" width="2.1" height="12.3" fill="#2f8a3a" stroke="#9be09b" stroke-width="0.8"/>
<line x1="924.16" y1="111.7" x2="924.16" y2="126.1" stroke="#c8c8c8" stroke-width="1"/>
<rect x="923.12" y="115.9" width="2.1" height="7.5" fill="#c02c58" stroke="#ff85a8" stroke-width="0.8"/>
<line x1="928.22" y1="119.7" x2="928.22" y2="137.3" stroke="#c8c8c8" stroke-width="1"/>
<rect x="927.17" y="122.4" width="2.1" height="4.2" fill="#c02c58" stroke="#ff85a8" stroke-width="0.8"/>
<line x1="932.27" y1="104.2" x2="932.27" y2="122.4" stroke="#c8c8c8" stroke-width="1"/>
<rect x="931.22" y="112.7" width="2.1" height="8.6" fill="#2f8a3a" stroke="#9be09b" stroke-width="0.8"/>
<line x1="936.32" y1="95.1" x2="936.32" y2="114.3" stroke="#c8c8c8" stroke-width="1"/>
<rect x="935.27" y="98.8" width="2.1" height="15.0" fill="#2f8a3a" stroke="#9be09b" stroke-width="0.8"/>
<line x1="940.38" y1="95.1" x2="940.38" y2="110.6" stroke="#c8c8c8" stroke-width="1"/>
<rect x="939.33" y="97.8" width="2.1" height="4.8" fill="#c02c58" stroke="#ff85a8" stroke-width="0.8"/>
<line x1="944.43" y1="123.4" x2="944.43" y2="138.0" stroke="#c8c8c8" stroke-width="1"/>
<rect x="943.33" y="129.3" width="2.2" height="1.0" fill="#c8dcc8"/>
<line x1="948.48" y1="148.7" x2="948.48" y2="173.3" stroke="#c8c8c8" stroke-width="1"/>
<rect x="947.43" y="158.3" width="2.1" height="8.0" fill="#c02c58" stroke="#ff85a8" stroke-width="0.8"/>
<line x1="952.54" y1="143.9" x2="952.54" y2="170.6" stroke="#c8c8c8" stroke-width="1"/>
<rect x="951.49" y="146.0" width="2.1" height="18.2" fill="#2f8a3a" stroke="#9be09b" stroke-width="0.8"/>
<line x1="956.59" y1="143.9" x2="956.59" y2="174.9" stroke="#c8c8c8" stroke-width="1"/>
<rect x="955.54" y="146.0" width="2.1" height="25.1" fill="#c02c58" stroke="#ff85a8" stroke-width="0.8"/>
<line x1="960.64" y1="157.8" x2="960.64" y2="182.4" stroke="#c8c8c8" stroke-width="1"/>
<rect x="959.54" y="161.0" width="2.2" height="10.7" fill="#dcbcc4"/>
<line x1="964.70" y1="180.0" x2="964.70" y2="200.5" stroke="#c8c8c8" stroke-width="1"/>
<rect x="963.60" y="181.3" width="2.2" height="12.8" fill="#c8dcc8"/>
<line x1="968.75" y1="144.4" x2="968.75" y2="161.5" stroke="#c8c8c8" stroke-width="1"/>
<rect x="967.65" y="150.0" width="2.2" height="8.0" fill="#c8dcc8"/>
<line x1="972.80" y1="153.0" x2="972.80" y2="167.4" stroke="#c8c8c8" stroke-width="1"/>
<rect x="971.70" y="154.6" width="2.2" height="6.4" fill="#dcbcc4"/>
<line x1="976.85" y1="160.0" x2="976.85" y2="185.6" stroke="#c8c8c8" stroke-width="1"/>
<rect x="975.75" y="164.2" width="2.2" height="7.5" fill="#dcbcc4"/>
<line x1="980.91" y1="173.8" x2="980.91" y2="188.8" stroke="#c8c8c8" stroke-width="1"/>
<rect x="979.81" y="181.9" width="2.2" height="1.0" fill="#c8dcc8"/>
<line x1="984.96" y1="177.0" x2="984.96" y2="195.2" stroke="#c8c8c8" stroke-width="1"/>
<rect x="983.91" y="184.0" width="2.1" height="2.6" fill="#2f8a3a" stroke="#9be09b" stroke-width="0.8"/>
<line x1="989.01" y1="177.0" x2="989.01" y2="192.0" stroke="#c8c8c8" stroke-width="1"/>
<rect x="987.91" y="187.7" width="2.2" height="1.0" fill="#c8dcc8"/>
<line x1="993.07" y1="175.4" x2="993.07" y2="193.0" stroke="#c8c8c8" stroke-width="1"/>
<rect x="992.02" y="181.3" width="2.1" height="10.7" fill="#c02c58" stroke="#ff85a8" stroke-width="0.8"/>
<line x1="997.12" y1="203.0" x2="997.12" y2="218.0" stroke="#c8c8c8" stroke-width="1"/>
<rect x="996.07" y="204.0" width="2.1" height="10.7" fill="#c02c58" stroke="#ff85a8" stroke-width="0.8"/>
<line x1="1001.17" y1="204.9" x2="1001.17" y2="236.0" stroke="#c8c8c8" stroke-width="1"/>
<rect x="1000.12" y="209.8" width="2.1" height="24.9" fill="#c02c58" stroke="#ff85a8" stroke-width="0.8"/>
<line x1="1005.23" y1="182.8" x2="1005.23" y2="252.5" stroke="#c8c8c8" stroke-width="1"/>
<rect x="1004.18" y="211.0" width="2.1" height="37.5" fill="#2f8a3a" stroke="#9be09b" stroke-width="0.8"/>
<line x1="1009.28" y1="205.4" x2="1009.28" y2="227.0" stroke="#c8c8c8" stroke-width="1"/>
<rect x="1008.23" y="209.0" width="2.1" height="9.7" fill="#c02c58" stroke="#ff85a8" stroke-width="0.8"/>
<line x1="1013.33" y1="198.2" x2="1013.33" y2="216.5" stroke="#c8c8c8" stroke-width="1"/>
<rect x="1012.28" y="200.0" width="2.1" height="10.7" fill="#c02c58" stroke="#ff85a8" stroke-width="0.8"/>
<line x1="1017.38" y1="212.5" x2="1017.38" y2="222.7" stroke="#c8c8c8" stroke-width="1"/>
<rect x="1016.33" y="214.3" width="2.1" height="2.2" fill="#c02c58" stroke="#ff85a8" stroke-width="0.8"/>
<line x1="1021.44" y1="215.0" x2="1021.44" y2="236.5" stroke="#c8c8c8" stroke-width="1"/>
<rect x="1020.39" y="217.4" width="2.1" height="14.2" fill="#c02c58" stroke="#ff85a8" stroke-width="0.8"/>
<line x1="1025.49" y1="226.3" x2="1025.49" y2="238.7" stroke="#c8c8c8" stroke-width="1"/>
<rect x="1024.44" y="229.0" width="2.1" height="4.8" fill="#2f8a3a" stroke="#9be09b" stroke-width="0.8"/>
<line x1="1029.54" y1="221.8" x2="1029.54" y2="234.3" stroke="#c8c8c8" stroke-width="1"/>
<rect x="1028.49" y="224.0" width="2.1" height="5.8" fill="#2f8a3a" stroke="#9be09b" stroke-width="0.8"/>
<path d="M12.3,427.8 L12.3,11.2 L1054.5,11.2 L1054.5,594.2 L12.3,594.2 Z" fill="none" stroke="#a0a0a0" stroke-width="1.2"/>
<line x1="12.3" y1="427.8" x2="1054.5" y2="427.8" stroke="#858585" stroke-width="2"/>
<line x1="1054.5" y1="64.3" x2="1059.0" y2="64.3" stroke="#fff" stroke-width="1"/>
<text x="1064.5" y="69.8" font-family="Liberation Sans" font-size="14" fill="#fff" textLength="24.5" lengthAdjust="spacingAndGlyphs">260</text>
<line x1="1054.5" y1="124.8" x2="1059.0" y2="124.8" stroke="#fff" stroke-width="1"/>
<text x="1064.5" y="130.3" font-family="Liberation Sans" font-size="14" fill="#fff" textLength="24.5" lengthAdjust="spacingAndGlyphs">240</text>
<line x1="1054.5" y1="185.2" x2="1059.0" y2="185.2" stroke="#fff" stroke-width="1"/>
<text x="1064.5" y="190.7" font-family="Liberation Sans" font-size="14" fill="#fff" textLength="24.5" lengthAdjust="spacingAndGlyphs">220</text>
<line x1="1054.5" y1="245.7" x2="1059.0" y2="245.7" stroke="#fff" stroke-width="1"/>
<text x="1064.5" y="251.2" font-family="Liberation Sans" font-size="14" fill="#fff" textLength="24.5" lengthAdjust="spacingAndGlyphs">200</text>
<line x1="1054.5" y1="306.1" x2="1059.0" y2="306.1" stroke="#fff" stroke-width="1"/>
<text x="1064.5" y="311.6" font-family="Liberation Sans" font-size="14" fill="#fff" textLength="24.5" lengthAdjust="spacingAndGlyphs">180</text>
<line x1="1054.5" y1="366.6" x2="1059.0" y2="366.6" stroke="#fff" stroke-width="1"/>
<text x="1064.5" y="372.1" font-family="Liberation Sans" font-size="14" fill="#fff" textLength="24.5" lengthAdjust="spacingAndGlyphs">160</text>
<line x1="1054.5" y1="427.1" x2="1059.0" y2="427.1" stroke="#fff" stroke-width="1"/>
<text x="1064.5" y="432.6" font-family="Liberation Sans" font-size="14" fill="#fff" textLength="24.5" lengthAdjust="spacingAndGlyphs">140</text>
<line x1="1054.5" y1="594.2" x2="1059.0" y2="594.2" stroke="#fff" stroke-width="1"/>
<text x="1063.5" y="599.7" font-family="Liberation Sans" font-size="14" fill="#fff">0</text>
<line x1="1054.5" y1="537.1" x2="1059.0" y2="537.1" stroke="#fff" stroke-width="1"/>
<text x="1063.5" y="542.6" font-family="Liberation Sans" font-size="14" fill="#fff">2</text>
<line x1="1054.5" y1="480.0" x2="1059.0" y2="480.0" stroke="#fff" stroke-width="1"/>
<text x="1063.5" y="485.5" font-family="Liberation Sans" font-size="14" fill="#fff">4</text>
<line x1="89.3" y1="594.2" x2="89.3" y2="598.7" stroke="#fff" stroke-width="1"/>
<line x1="174.7" y1="594.2" x2="174.7" y2="598.7" stroke="#fff" stroke-width="1"/>
<line x1="259.5" y1="594.2" x2="259.5" y2="598.7" stroke="#fff" stroke-width="1"/>
<line x1="352.6" y1="594.2" x2="352.6" y2="598.7" stroke="#fff" stroke-width="1"/>
<line x1="438.3" y1="594.2" x2="438.3" y2="598.7" stroke="#fff" stroke-width="1"/>
<line x1="527.6" y1="594.2" x2="527.6" y2="598.7" stroke="#fff" stroke-width="1"/>
<line x1="620.7" y1="594.2" x2="620.7" y2="598.7" stroke="#fff" stroke-width="1"/>
<line x1="701.3" y1="594.2" x2="701.3" y2="598.7" stroke="#fff" stroke-width="1"/>
<line x1="778.5" y1="594.2" x2="778.5" y2="598.7" stroke="#fff" stroke-width="1"/>
<line x1="863.5" y1="594.2" x2="863.5" y2="598.7" stroke="#fff" stroke-width="1"/>
<line x1="944.5" y1="594.2" x2="944.5" y2="598.7" stroke="#fff" stroke-width="1"/>
<text x="0" y="0" transform="translate(87.3,633.5) rotate(-45) scale(1.1,1)" text-anchor="middle" dominant-baseline="central" font-family="Liberation Sans" font-size="14" fill="#fff" fill="#eee">May 2025</text>
<text x="0" y="0" transform="translate(257.5,633.5) rotate(-45) scale(1.1,1)" text-anchor="middle" dominant-baseline="central" font-family="Liberation Sans" font-size="14" fill="#fff" fill="#eee">Jul 2025</text>
<text x="0" y="0" transform="translate(436.3,633.5) rotate(-45) scale(1.1,1)" text-anchor="middle" dominant-baseline="central" font-family="Liberation Sans" font-size="14" fill="#fff" fill="#eee">Sep 2025</text>
<text x="0" y="0" transform="translate(618.7,633.5) rotate(-45) scale(1.1,1)" text-anchor="middle" dominant-baseline="central" font-family="Liberation Sans" font-size="14" fill="#fff" fill="#eee">Nov 2025</text>
<text x="0" y="0" transform="translate(776.5,633.5) rotate(-45) scale(1.1,1)" text-anchor="middle" dominant-baseline="central" font-family="Liberation Sans" font-size="14" fill="#fff" fill="#eee">Jan 2026</text>
<text x="0" y="0" transform="translate(942.5,633.5) rotate(-45) scale(1.1,1)" text-anchor="middle" dominant-baseline="central" font-family="Liberation Sans" font-size="14" fill="#fff" fill="#eee">Mar 2026</text>
<text transform="translate(1107,222.7) rotate(-90)" text-anchor="middle" font-family="Liberation Sans" font-size="14" fill="#ddd">Preis</text>
<text transform="translate(1089.5,513.5) rotate(-90) scale(1.1,1)" text-anchor="middle" font-family="Liberation Sans" font-size="14" fill="#ddd">Volumen</text>
<text transform="translate(1108,508) rotate(-90) scale(1.08,1)" text-anchor="middle" font-family="Liberation Sans" font-size="14" fill="#ddd">10<tspan dy="-5" font-size="10">6</tspan></text>
<rect x="914.9" y="434" width="10" height="10" fill="#ffd700"/>
<text x="930.5" y="442.7" font-family="Liberation Sans" font-weight="bold" font-size="13" fill="#ffd700" textLength="52" lengthAdjust="spacingAndGlyphs">SMA 20</text>
<rect x="914.9" y="451" width="10" height="10" fill="#ff6b6b"/>
<text x="930.5" y="459.7" font-family="Liberation Sans" font-weight="bold" font-size="13" fill="#ff6b6b" textLength="52" lengthAdjust="spacingAndGlyphs">SMA 50</text>
<rect x="914.9" y="468" width="10" height="10" fill="#4ecdc4"/>
<text x="930.5" y="476.7" font-family="Liberation Sans" font-weight="bold" font-size="13" fill="#4ecdc4" textLength="60.7" lengthAdjust="spacingAndGlyphs">SMA 200</text>
<rect x="751" y="13" width="99" height="19" rx="2.5" fill="#000" stroke="#2ecc71" stroke-width="1.6"/>
<text x="800.5" y="25.7" text-anchor="middle" font-family="Liberation Sans" font-weight="bold" font-size="13" fill="#2ecc71" textLength="92" lengthAdjust="spacingAndGlyphs">$270.01 52W</text>
<line x1="852" y1="28.4" x2="884" y2="32.8" stroke="#2ecc71" stroke-width="1.7"/>
<path d="M892,33.8 L882.6,29.0 L881.4,37.4 Z" fill="#2ecc71"/>
<rect x="70.6" y="372.6" width="97.2" height="18.2" rx="2.5" fill="#000" fill-opacity="0.85" stroke="#d9534f" stroke-width="1.6"/>
<text x="119.1" y="385.4" text-anchor="middle" font-family="Liberation Sans" font-weight="bold" font-size="13" fill="#e8524a" textLength="91.4" lengthAdjust="spacingAndGlyphs">$159.00 52W</text>
<line x1="69" y1="375.7" x2="33" y2="370" stroke="#e8524a" stroke-width="1.6"/>
<path d="M25,368.9 L34.6,365.3 L33.4,373.7 Z" fill="#e8524a"/>
</svg></body></html>
